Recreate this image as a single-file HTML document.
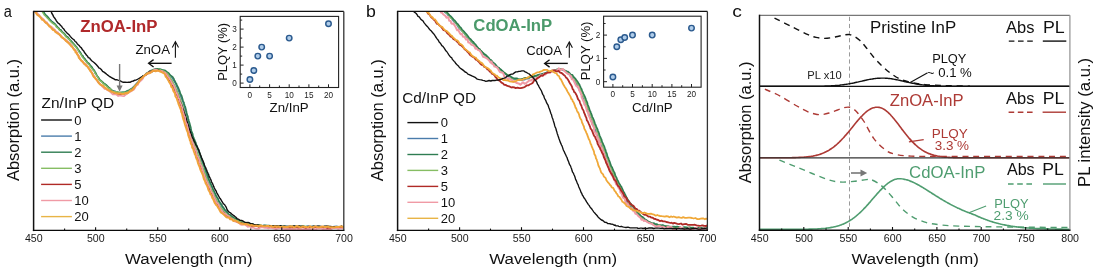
<!DOCTYPE html>
<html><head><meta charset="utf-8"><title>Absorption and PL spectra</title>
<style>
html,body{margin:0;padding:0;background:#fff;}
body{width:1097px;height:270px;overflow:hidden;font-family:"Liberation Sans",sans-serif;}
svg{display:block;will-change:transform;}
svg text{font-family:"Liberation Sans",sans-serif;}
</style></head>
<body>
<svg width="1097" height="270" viewBox="0 0 1097 270">
<rect width="1097" height="270" fill="#fff"/>
<text x="3.78" y="17.00" font-size="16.00" fill="#111" font-weight="normal" textLength="8.10" lengthAdjust="spacingAndGlyphs" >a</text>
<text x="365.90" y="17.00" font-size="16.00" fill="#111" font-weight="normal" textLength="9.83" lengthAdjust="spacingAndGlyphs" >b</text>
<text x="732.18" y="17.00" font-size="16.00" fill="#111" font-weight="normal" textLength="9.60" lengthAdjust="spacingAndGlyphs" >c</text>
<defs>
<clipPath id="ca"><rect x="33.6" y="11.4" width="310.2" height="219.0"/></clipPath>
<clipPath id="cb"><rect x="397.6" y="11.4" width="309.8" height="219.0"/></clipPath>
<clipPath id="cc"><rect x="759.5" y="15.3" width="310.4" height="214.9"/></clipPath>
</defs>
<g clip-path="url(#ca)" fill="none" stroke-linejoin="round">
<path d="M42.0,10.6 L43.0,11.6 L44.1,13.4 L45.3,15.0 L46.7,16.7 L47.8,17.6 L49.1,19.4 L50.6,19.9 L52.1,22.1 L53.4,23.1 L54.6,23.8 L56.0,25.2 L57.2,26.7 L58.4,28.3 L59.9,30.0 L61.2,31.1 L62.5,32.5 L63.8,33.5 L65.2,35.5 L66.5,36.6 L67.6,37.5 L68.9,38.7 L70.3,40.4 L71.6,41.7 L72.9,43.6 L73.9,44.3 L75.4,46.0 L76.7,47.3 L77.5,49.1 L78.8,50.2 L79.6,51.9 L80.9,53.9 L81.6,54.9 L82.7,56.3 L84.0,57.9 L85.1,59.7 L86.2,61.4 L87.4,62.7 L88.6,63.9 L89.9,65.1 L91.3,67.1 L92.3,68.6 L93.4,69.7 L94.6,71.5 L95.3,73.4 L96.3,74.3 L97.4,76.0 L98.2,77.4 L99.2,79.4 L100.5,80.8 L102.0,81.9 L103.5,83.2 L104.9,84.8 L106.3,85.2 L107.9,87.0 L109.2,87.6 L110.7,89.6 L112.0,90.7 L113.9,91.2 L115.5,91.3 L117.2,92.6 L119.0,92.7 L120.9,92.9 L122.8,92.3 L124.5,92.4 L126.3,91.4 L128.1,91.3 L129.7,89.9 L131.4,88.8 L132.5,87.7 L134.0,86.2 L135.2,85.1 L136.5,83.5 L137.7,82.9 L139.1,81.2 L140.2,79.8 L141.3,77.8 L142.5,77.3 L144.0,76.1 L145.2,74.5 L146.9,73.5 L148.4,72.8 L149.9,71.5 L151.8,71.1 L153.6,70.3 L155.4,69.9 L157.1,69.3 L159.0,69.4 L160.7,69.6 L162.6,70.0 L164.2,70.6 L165.8,71.8 L167.1,72.9 L168.8,74.4 L170.1,75.2 L171.4,76.8 L172.4,78.5 L173.3,80.0 L174.2,81.5 L175.1,82.8 L176.0,84.8 L176.7,86.9 L177.3,87.7 L178.1,90.1 L178.7,91.4 L179.6,93.6 L180.2,95.6 L180.9,97.1 L181.5,98.6 L182.4,100.9 L183.0,102.1 L183.5,103.8 L183.9,105.8 L184.7,107.9 L185.2,109.8 L185.5,110.9 L186.1,112.8 L186.5,114.7 L187.1,116.6 L187.5,118.8 L188.2,120.2 L188.4,121.6 L189.1,123.4 L189.5,125.8 L189.9,127.8 L190.3,128.9 L191.0,130.6 L191.6,132.6 L191.9,134.3 L192.6,136.4 L193.3,138.4 L193.9,140.5 L194.6,141.5 L195.2,143.2 L195.8,145.2 L196.7,146.7 L197.3,148.6 L198.0,150.5 L198.7,152.5 L199.3,154.3 L200.0,155.4 L200.7,157.8 L201.1,159.3 L201.9,161.5 L202.4,162.9 L203.2,164.9 L203.9,166.4 L204.4,167.9 L205.0,170.2 L205.6,171.9 L206.1,173.9 L206.9,175.7 L207.4,177.3 L208.0,179.2 L208.8,180.4 L209.3,182.2 L210.2,184.3 L210.9,185.3 L211.7,187.0 L212.5,188.8 L213.2,191.1 L213.9,192.2 L214.9,194.4 L215.8,196.1 L216.7,197.6 L217.6,198.8 L218.3,200.9 L219.3,202.7 L220.4,204.1 L221.4,205.7 L222.3,207.1 L223.6,209.1 L224.5,210.6 L225.8,211.8 L227.0,212.8 L228.3,214.4 L229.9,215.0 L231.5,216.6 L232.9,217.9 L234.5,218.6 L236.2,219.1 L237.8,220.3 L239.7,221.5 L241.2,221.7 L243.0,222.3 L245.0,223.2 L246.7,223.1 L248.4,223.9 L250.5,223.8 L252.3,224.1 L254.0,224.6 L256.0,224.9 L257.8,225.4 L259.5,225.6 L261.4,225.6 L263.3,225.4 L265.3,225.8 L267.1,225.9 L269.0,225.7 L270.8,226.3 L272.8,226.3 L274.7,226.4 L276.6,226.1 L278.5,226.7 L280.4,226.2 L282.1,226.9 L283.9,227.0 L286.0,226.2 L287.7,226.8 L289.6,226.2 L291.6,226.5 L293.5,226.2 L295.2,226.8 L297.0,226.3 L299.1,227.1 L301.0,226.3 L302.8,226.9 L304.7,226.9 L306.4,226.3 L308.3,226.2 L310.3,226.7 L312.2,226.4 L313.9,226.4 L316.0,227.2 L317.9,226.3 L319.5,227.2 L321.5,227.0 L323.4,226.7 L325.3,226.7 L327.2,226.3 L329.1,227.1 L330.8,226.7 L332.9,226.7 L334.6,226.4 L336.6,226.3 L338.7,227.1 L340.6,227.2 L342.2,226.7 L344.0,226.8 L345.0,226.8" stroke="#4a7cab" stroke-width="1.40"/>
<path d="M42.5,10.5 L43.1,11.3 L44.1,12.8 L45.1,14.3 L46.2,15.4 L47.5,16.6 L48.7,18.0 L49.9,19.8 L51.0,20.8 L52.5,21.8 L53.7,23.0 L54.9,23.9 L55.9,25.1 L57.1,26.8 L58.3,27.6 L59.7,29.4 L60.8,29.8 L62.1,31.8 L63.3,32.7 L64.3,33.6 L65.5,35.1 L66.6,36.6 L67.9,37.1 L69.1,38.8 L70.2,40.0 L71.3,41.1 L72.3,42.4 L73.2,43.2 L74.3,44.6 L75.3,45.8 L76.4,46.8 L77.1,48.0 L78.4,49.8 L79.3,51.3 L80.1,52.0 L80.9,53.4 L81.7,55.1 L82.9,56.0 L83.7,58.1 L84.7,58.5 L85.5,59.8 L86.4,60.6 L87.4,62.6 L88.3,62.9 L89.5,64.0 L90.4,65.8 L91.3,66.2 L92.1,67.5 L93.2,69.5 L94.2,70.1 L94.9,71.6 L95.6,72.6 L96.5,74.8 L97.3,76.3 L98.3,77.3 L99.0,78.4 L100.1,80.2 L101.3,80.8 L102.4,81.8 L103.6,83.1 L104.9,83.8 L106.4,85.0 L107.4,86.1 L108.7,87.3 L110.0,88.3 L111.0,89.5 L112.3,90.5 L113.2,91.0 L115.6,92.1 L117.4,92.0 L119.1,92.7 L121.0,92.4 L122.4,92.4 L124.3,92.4 L125.9,91.7 L127.5,90.8 L129.0,90.1 L130.5,89.3 L132.1,88.7 L133.0,87.6 L134.2,86.8 L135.3,85.4 L136.4,84.4 L137.4,82.8 L138.6,81.5 L139.5,80.4 L140.6,79.3 L141.9,78.2 L142.8,76.1 L144.1,75.7 L145.1,74.8 L146.7,72.9 L148.0,72.4 L149.7,71.1 L151.1,70.5 L152.7,70.0 L154.4,69.2 L155.9,68.7 L157.7,68.9 L159.8,69.0 L161.3,69.4 L163.1,70.2 L165.0,70.3 L166.3,71.3 L167.8,72.5 L169.0,73.4 L170.2,75.2 L171.6,76.2 L172.7,77.0 L173.8,78.6 L174.3,80.2 L175.1,81.3 L175.8,83.0 L176.4,83.6 L177.0,85.4 L177.9,87.0 L178.5,88.2 L179.1,89.7 L179.8,91.4 L180.3,93.4 L181.1,94.9 L181.7,96.0 L182.3,98.0 L182.9,100.2 L183.4,101.6 L184.0,102.6 L184.2,103.9 L184.7,105.5 L185.3,106.9 L186.2,110.5 L186.4,111.0 L186.6,112.8 L187.0,113.9 L187.3,115.4 L187.9,116.3 L188.1,118.2 L188.7,120.0 L188.9,120.9 L189.6,122.9 L190.0,124.6 L190.4,126.0 L190.9,127.9 L191.0,129.2 L191.5,130.9 L192.2,132.9 L192.6,133.7 L192.9,135.2 L193.5,137.4 L194.1,138.9 L194.6,139.9 L195.2,141.5 L195.9,142.8 L196.3,144.7 L196.8,145.4 L197.3,146.7 L197.9,148.8 L198.5,149.6 L199.2,151.3 L199.5,152.5 L200.1,154.3 L200.6,155.8 L201.3,157.7 L201.8,158.6 L202.2,160.0 L202.8,162.3 L203.6,163.0 L204.0,165.3 L204.6,166.7 L205.0,167.4 L205.4,169.8 L206.1,171.2 L206.5,172.7 L207.1,173.8 L207.5,175.4 L208.1,176.6 L208.5,179.1 L209.2,180.0 L209.8,181.6 L210.5,183.0 L210.9,184.1 L211.7,186.0 L212.6,187.7 L213.1,189.7 L213.9,190.8 L214.8,192.7 L215.4,193.8 L216.1,195.8 L217.0,197.0 L217.4,198.0 L218.1,198.7 L219.1,201.3 L220.1,202.5 L220.7,203.7 L221.7,204.4 L222.4,206.4 L223.4,207.4 L224.6,209.2 L225.4,210.2 L226.4,211.3 L227.6,212.6 L228.9,214.6 L230.4,215.0 L231.8,216.6 L233.3,217.2 L234.7,218.5 L236.1,218.6 L237.2,219.3 L238.6,220.6 L240.0,220.9 L241.4,222.0 L243.2,222.5 L245.0,223.0 L246.3,222.6 L247.4,223.8 L248.9,224.0 L250.4,224.5 L252.3,224.1 L254.9,225.0 L256.1,224.9 L257.0,225.0 L258.1,224.8 L259.4,225.6 L260.4,225.3 L261.6,225.8 L262.7,226.1 L264.2,225.3 L265.4,225.4 L267.1,225.6 L268.6,225.5 L270.6,225.9 L272.6,225.9 L274.9,226.4 L277.3,226.8 L280.0,226.4 L281.0,226.2 L282.3,226.3 L283.4,226.4 L284.8,226.1 L286.1,226.9 L287.6,226.5 L289.1,226.7 L290.5,226.6 L292.0,226.7 L293.7,226.2 L295.4,226.3 L297.1,227.1 L298.9,226.2 L300.6,226.7 L302.4,226.4 L304.0,226.5 L305.8,227.0 L307.8,226.8 L309.6,226.6 L311.3,226.6 L313.2,226.5 L315.1,226.7 L316.7,226.7 L318.7,226.6 L320.3,226.7 L322.2,227.0 L323.9,226.5 L325.6,226.9 L327.2,226.8 L328.8,227.2 L330.5,226.9 L332.1,227.0 L333.5,226.9 L334.8,226.9 L336.3,226.8 L337.8,226.6 L338.9,227.1 L340.1,227.2 L341.4,226.4 L342.4,227.2 L343.4,226.9 L344.1,226.7 L345.0,226.8" stroke="#2f7d52" stroke-width="1.60"/>
<path d="M41.1,10.7 L42.1,11.3 L43.1,13.2 L44.5,15.3 L45.9,16.5 L47.1,17.9 L48.3,19.0 L49.7,20.8 L51.0,21.9 L52.4,23.1 L53.8,24.1 L55.3,25.1 L56.4,27.3 L57.8,27.8 L59.3,30.0 L60.3,30.8 L61.6,32.1 L63.1,33.3 L64.4,34.5 L65.6,36.6 L67.0,37.5 L68.3,38.9 L69.6,39.8 L71.0,42.1 L72.3,43.2 L73.4,44.3 L74.8,46.0 L75.8,47.0 L77.0,48.7 L78.2,50.3 L79.0,52.1 L80.2,53.4 L81.1,54.9 L82.2,56.8 L83.2,58.1 L84.4,59.7 L85.5,60.8 L86.8,62.6 L88.0,63.8 L89.3,65.0 L90.6,67.1 L91.8,68.5 L92.9,70.0 L93.9,70.8 L95.0,73.2 L95.7,74.1 L96.9,75.8 L97.7,77.1 L98.7,79.2 L100.3,81.0 L101.5,81.3 L102.8,83.4 L104.4,84.4 L105.7,85.5 L107.2,86.7 L108.6,88.3 L110.2,88.7 L111.5,90.5 L113.2,91.4 L115.0,91.8 L116.8,91.8 L118.4,92.2 L120.4,92.8 L122.0,93.0 L123.9,92.1 L125.6,92.5 L127.4,91.5 L129.1,91.1 L130.6,89.6 L132.0,89.0 L133.4,87.5 L134.6,86.0 L135.9,84.8 L136.9,83.6 L138.4,82.3 L139.6,81.0 L140.7,79.5 L141.9,77.4 L143.2,76.3 L144.7,75.5 L146.0,74.3 L147.4,73.1 L149.1,72.1 L150.6,71.3 L152.3,70.9 L154.0,69.7 L155.9,69.9 L157.8,69.7 L159.6,69.5 L161.1,70.1 L162.9,70.5 L164.6,71.6 L166.0,72.7 L167.6,73.6 L168.7,75.3 L169.9,76.9 L171.0,78.9 L172.0,80.3 L172.8,81.7 L173.8,83.8 L174.5,85.1 L175.4,87.2 L176.0,88.6 L176.9,90.2 L177.6,92.2 L178.4,93.9 L179.0,95.4 L179.7,97.1 L180.3,98.9 L180.9,100.5 L181.5,102.6 L182.1,103.9 L182.9,106.0 L183.5,108.1 L183.8,110.2 L184.5,111.4 L184.8,113.5 L185.5,115.3 L186.0,116.9 L186.4,118.6 L186.9,120.5 L187.4,122.4 L188.0,124.0 L188.3,125.9 L189.1,127.9 L189.3,130.1 L190.1,131.9 L190.5,133.6 L191.0,134.8 L191.7,137.3 L192.1,139.1 L192.7,140.3 L193.4,141.9 L194.1,144.2 L194.8,145.5 L195.5,147.3 L196.3,149.4 L196.8,151.2 L197.5,152.8 L198.2,154.7 L198.9,156.4 L199.5,158.1 L200.1,159.8 L200.7,161.7 L201.4,163.2 L202.1,165.2 L202.8,167.2 L203.4,169.0 L203.9,170.5 L204.6,172.6 L205.3,173.7 L205.7,175.5 L206.4,177.2 L207.0,179.1 L207.7,181.3 L208.6,183.4 L209.4,184.9 L210.1,185.9 L210.7,188.5 L211.5,189.5 L212.4,191.4 L213.2,193.0 L213.9,194.5 L214.8,197.0 L215.8,198.5 L216.7,199.8 L217.4,202.0 L218.4,203.4 L219.3,204.5 L220.4,206.6 L221.6,208.2 L222.6,209.3 L223.9,211.5 L224.9,212.1 L226.2,213.8 L227.6,214.7 L229.2,216.2 L230.6,217.1 L232.5,218.3 L233.9,219.0 L235.5,220.2 L237.4,220.4 L239.1,221.5 L240.9,221.9 L242.6,222.4 L244.6,222.9 L246.3,223.5 L248.0,223.9 L249.9,224.2 L251.8,224.6 L253.8,224.8 L255.5,225.4 L257.4,225.4 L259.4,225.1 L261.2,225.3 L263.0,226.1 L265.1,226.1 L266.7,226.0 L268.7,226.5 L270.5,225.9 L272.5,226.4 L274.4,226.3 L276.4,226.3 L278.3,226.3 L280.0,226.3 L282.0,226.8 L283.7,226.6 L285.7,226.6 L287.6,226.7 L289.5,226.5 L291.3,226.1 L293.3,226.9 L295.1,227.1 L297.1,226.3 L299.0,226.6 L300.7,226.4 L302.6,226.2 L304.4,226.3 L306.3,226.4 L308.2,227.1 L310.1,226.7 L312.1,227.2 L313.8,226.5 L315.9,227.2 L317.8,226.8 L319.5,226.5 L321.6,227.0 L323.4,227.1 L325.2,226.8 L327.2,226.4 L329.0,226.5 L331.0,227.1 L332.8,226.7 L334.5,226.8 L336.5,226.7 L338.4,227.2 L340.5,226.9 L342.3,227.2 L344.0,226.9 L345.0,226.8" stroke="#86bd63" stroke-width="1.40"/>
<path d="M50.5,10.7 L51.2,11.5 L51.9,13.5 L52.8,14.9 L53.7,16.9 L54.6,18.0 L55.4,19.2 L56.4,20.8 L57.2,22.0 L58.3,23.3 L59.4,23.8 L60.4,25.3 L61.5,26.2 L62.6,28.0 L63.7,28.8 L64.8,30.6 L66.0,31.9 L67.0,33.0 L68.4,34.3 L69.3,35.1 L70.5,36.6 L71.7,38.0 L72.9,39.0 L74.1,39.8 L75.1,41.5 L76.2,42.2 L77.2,43.7 L78.3,44.8 L79.4,45.8 L80.3,47.0 L81.4,47.9 L82.5,49.8 L83.7,50.9 L84.6,52.7 L85.6,53.8 L86.4,55.1 L87.6,56.2 L88.3,57.6 L89.7,58.1 L90.6,59.6 L91.7,60.7 L93.1,61.8 L94.3,62.7 L95.4,63.8 L96.4,64.8 L97.9,66.4 L98.8,67.8 L100.1,68.4 L101.3,69.5 L102.6,71.3 L104.0,72.2 L105.3,73.1 L106.7,74.3 L108.1,75.4 L109.3,76.3 L110.7,77.2 L112.0,78.0 L113.5,78.7 L115.0,79.7 L116.6,79.7 L118.0,80.2 L119.8,80.7 L121.6,81.6 L123.3,82.3 L125.1,82.3 L127.1,82.4 L128.7,82.2 L130.4,82.2 L131.7,81.4 L133.3,81.0 L134.9,80.2 L136.4,79.9 L138.1,79.0 L139.6,78.2 L141.2,77.2 L142.9,76.0 L144.4,75.8 L145.6,74.9 L147.0,73.7 L148.6,73.3 L149.9,72.5 L151.9,71.8 L153.7,70.7 L155.4,70.8 L156.9,70.3 L158.7,70.2 L160.2,71.1 L161.7,71.4 L162.9,72.3 L164.3,73.4 L165.5,74.4 L166.8,76.2 L168.1,77.4 L168.8,79.0 L169.8,80.5 L170.8,81.5 L171.7,83.3 L172.5,84.9 L173.4,86.4 L174.2,88.0 L174.9,89.6 L175.8,91.3 L176.4,92.9 L177.1,94.8 L177.8,95.4 L178.2,97.0 L178.9,98.3 L179.5,100.2 L179.9,101.2 L180.4,102.3 L180.9,103.6 L181.5,104.9 L182.0,106.1 L182.6,108.0 L183.6,110.0 L183.8,111.4 L184.3,112.7 L184.6,113.5 L185.1,114.9 L185.5,116.3 L186.1,118.1 L186.6,119.7 L187.0,121.8 L187.5,122.9 L188.1,124.6 L188.7,126.5 L189.0,128.2 L189.7,129.5 L190.0,130.7 L190.7,132.7 L191.1,134.0 L191.6,134.8 L192.1,137.0 L192.9,138.3 L193.5,139.5 L194.2,141.5 L194.8,142.3 L195.4,143.8 L196.0,145.1 L196.8,146.1 L197.3,147.2 L198.1,149.0 L198.7,149.8 L199.2,151.4 L199.9,153.3 L200.3,154.5 L200.9,155.8 L201.4,157.5 L202.1,159.1 L202.6,160.2 L203.3,161.5 L203.9,163.6 L204.4,164.9 L205.0,166.6 L205.6,167.4 L206.3,169.3 L206.8,170.4 L207.3,171.7 L208.0,173.2 L208.6,174.4 L209.0,176.1 L209.7,177.3 L210.3,178.6 L211.0,180.0 L211.5,181.8 L212.1,182.8 L212.9,184.4 L213.7,186.4 L214.3,187.8 L215.2,189.7 L216.0,190.7 L216.8,192.8 L217.6,194.1 L218.1,195.2 L218.9,196.5 L219.6,197.9 L220.3,198.6 L221.5,200.7 L222.5,202.3 L223.5,203.9 L224.5,204.5 L225.2,205.7 L226.3,207.4 L227.0,209.5 L228.1,211.0 L229.3,212.3 L230.6,212.9 L232.0,214.3 L233.4,215.4 L234.6,216.2 L235.9,217.2 L237.2,218.8 L238.6,219.2 L240.0,220.3 L241.6,220.4 L243.1,221.2 L244.6,222.1 L246.3,222.6 L248.0,222.5 L249.7,222.9 L250.9,224.0 L252.3,223.8 L253.8,224.4 L255.9,225.1 L256.9,224.6 L257.4,225.0 L257.9,225.1 L258.3,225.4 L259.1,225.2 L260.6,225.9 L262.7,225.9 L265.7,226.1 L269.9,225.7 L270.9,226.0 L271.9,226.0 L273.1,226.2 L274.1,225.8 L275.2,225.7 L276.6,226.3 L278.1,226.0 L279.3,226.2 L280.9,225.8 L282.3,226.6 L283.8,226.3 L285.5,226.4 L287.0,226.5 L288.7,226.4 L290.4,226.5 L292.1,226.6 L293.8,225.9 L295.5,226.3 L297.5,226.7 L299.1,226.0 L301.0,226.5 L302.8,226.2 L304.6,226.6 L306.6,226.8 L308.3,226.4 L310.3,226.6 L312.0,226.6 L313.9,226.1 L315.6,226.5 L317.4,226.3 L319.3,226.3 L321.0,226.5 L322.6,226.8 L324.4,226.3 L326.1,226.3 L327.6,226.3 L329.2,226.5 L330.8,226.4 L332.3,226.9 L333.8,226.7 L335.1,227.0 L336.5,226.8 L337.9,226.6 L339.1,226.7 L340.3,226.9 L341.3,226.3 L342.4,226.5 L343.4,226.6 L344.1,227.0 L345.0,226.7" stroke="#111" stroke-width="1.40"/>
<path d="M34.1,10.7 L35.3,11.9 L36.6,12.8 L38.0,14.4 L39.5,15.6 L40.8,17.1 L42.1,18.6 L43.6,20.1 L44.7,21.1 L46.1,23.0 L47.7,24.2 L49.1,25.5 L50.6,26.8 L51.8,28.1 L53.3,29.3 L54.7,30.2 L56.0,31.5 L57.4,32.5 L59.0,34.4 L60.5,35.6 L61.7,36.9 L63.0,38.1 L64.5,38.9 L65.8,40.6 L67.2,41.8 L68.7,43.1 L69.9,44.5 L71.3,45.6 L72.5,47.1 L73.7,48.8 L75.1,50.1 L76.1,52.2 L76.8,53.1 L78.0,55.4 L78.9,56.4 L79.9,58.7 L81.1,60.2 L82.1,61.6 L83.5,62.9 L84.8,64.5 L86.3,65.5 L87.5,66.8 L88.9,68.2 L89.9,69.8 L90.9,71.0 L91.9,73.0 L92.9,74.2 L93.9,76.3 L95.1,77.8 L96.0,79.2 L97.3,80.4 L98.4,82.8 L99.8,83.5 L101.2,85.1 L102.6,86.2 L104.3,87.7 L105.7,88.3 L107.5,90.0 L109.2,90.4 L110.9,91.2 L112.5,92.3 L114.5,93.3 L116.2,93.9 L118.2,94.0 L120.1,94.3 L121.9,94.1 L123.8,94.0 L125.6,93.5 L127.5,93.1 L129.3,91.5 L131.0,90.6 L132.4,89.6 L133.7,88.0 L135.1,86.4 L136.4,84.8 L137.6,83.4 L138.7,82.0 L139.8,80.3 L141.2,79.1 L142.7,78.2 L143.8,76.4 L145.3,75.3 L146.9,74.3 L148.6,72.5 L150.2,71.7 L152.3,70.9 L154.0,70.5 L155.8,70.6 L157.7,70.4 L159.8,70.9 L161.5,71.4 L163.1,71.9 L164.7,73.3 L166.2,73.9 L167.2,75.7 L168.4,77.3 L169.3,79.3 L170.3,80.1 L171.1,81.7 L172.1,83.5 L173.0,85.9 L173.8,87.6 L174.4,89.1 L175.3,91.0 L175.9,92.8 L176.5,94.1 L177.5,96.0 L178.0,98.0 L178.8,99.0 L179.3,101.0 L180.0,103.5 L180.6,105.2 L181.4,106.6 L182.0,108.7 L182.4,110.0 L182.9,112.5 L183.5,113.6 L184.0,115.7 L184.4,117.6 L184.9,119.7 L185.5,120.8 L186.1,122.8 L186.7,124.8 L187.2,127.0 L187.6,128.7 L188.3,130.2 L188.9,131.6 L189.4,133.5 L190.0,135.3 L190.3,137.5 L191.2,139.0 L191.7,141.2 L192.2,142.9 L192.8,144.6 L193.7,146.2 L194.2,147.7 L195.0,149.9 L195.7,152.0 L196.1,153.9 L197.0,155.6 L197.6,157.3 L198.2,159.0 L198.8,160.4 L199.3,162.6 L200.1,163.7 L200.8,166.1 L201.4,168.0 L202.1,169.4 L202.8,171.3 L203.4,173.0 L204.1,174.8 L204.8,176.4 L205.4,178.8 L206.1,180.0 L206.6,181.9 L207.4,184.0 L208.3,185.9 L208.9,187.0 L209.7,189.1 L210.4,190.3 L211.2,192.1 L212.0,194.5 L212.8,196.1 L213.7,197.1 L214.7,198.7 L215.3,200.4 L216.2,202.3 L217.2,203.7 L218.2,205.9 L219.2,207.0 L220.4,209.2 L221.6,210.6 L222.8,212.1 L224.1,212.9 L225.2,214.7 L226.8,215.8 L228.5,216.5 L230.1,217.8 L231.6,218.7 L233.3,220.0 L235.0,221.2 L236.7,221.8 L238.4,222.5 L240.2,223.3 L242.3,223.3 L244.1,223.9 L245.8,224.2 L247.7,224.7 L249.6,225.6 L251.4,226.1 L253.2,226.0 L255.1,225.9 L257.1,226.2 L258.8,227.0 L260.9,226.8 L262.7,226.6 L264.4,227.1 L266.4,226.8 L268.5,226.7 L270.2,227.5 L272.2,226.9 L274.1,227.4 L276.0,227.9 L277.9,227.6 L279.8,227.5 L281.6,227.9 L283.5,227.5 L285.2,227.9 L287.2,227.6 L289.1,227.7 L291.0,228.0 L293.0,227.7 L294.9,227.6 L296.8,228.0 L298.7,228.0 L300.6,227.8 L302.4,227.4 L304.2,227.7 L306.2,228.2 L308.0,227.6 L310.1,227.7 L312.0,227.4 L313.9,227.7 L315.7,227.3 L317.5,228.1 L319.5,227.9 L321.3,227.3 L323.3,227.8 L325.2,227.9 L327.0,228.2 L328.8,228.3 L330.7,228.3 L332.7,227.8 L334.7,227.9 L336.5,227.4 L338.6,228.0 L340.4,227.5 L342.1,228.3 L344.0,227.8 L345.0,227.9" stroke="#b02a26" stroke-width="1.40"/>
<path d="M34.4,10.9 L35.7,12.4 L36.9,12.7 L38.6,14.9 L39.7,16.4 L41.1,17.9 L42.2,18.2 L44.0,19.8 L45.1,21.9 L46.6,22.0 L48.0,24.2 L49.2,25.5 L50.6,26.2 L51.9,27.2 L53.8,28.9 L55.2,30.2 L56.4,32.3 L57.9,32.2 L59.2,34.4 L60.4,34.7 L62.2,36.7 L63.2,37.9 L64.6,39.8 L66.1,39.9 L67.7,41.2 L68.8,42.4 L70.4,43.8 L71.6,45.2 L72.8,47.7 L74.1,48.7 L75.2,50.2 L76.3,51.1 L77.2,53.0 L78.3,55.9 L78.9,56.1 L80.2,58.5 L81.0,60.3 L82.7,61.2 L83.7,62.8 L85.4,63.6 L86.4,64.8 L87.9,66.7 L88.9,68.0 L89.9,69.4 L91.4,71.5 L92.1,73.8 L93.1,74.2 L94.0,75.8 L95.1,77.6 L96.6,79.3 L97.4,81.5 L99.0,82.5 L100.3,84.1 L101.6,85.9 L103.2,87.5 L104.5,88.9 L106.0,89.2 L108.0,90.6 L109.5,91.3 L111.3,92.9 L112.7,94.4 L114.6,94.2 L116.4,94.6 L118.2,96.1 L120.1,95.5 L122.2,96.0 L124.1,96.1 L125.9,94.7 L127.8,93.4 L129.4,92.4 L130.9,91.5 L132.0,90.6 L133.0,90.3 L133.9,89.7 L135.1,87.9 L135.7,86.4 L136.7,85.3 L138.0,84.8 L138.4,83.3 L139.8,81.8 L140.3,81.2 L141.5,80.3 L142.7,78.9 L143.8,76.4 L144.7,75.7 L145.5,74.9 L146.9,73.2 L148.1,73.8 L149.4,72.5 L150.6,72.6 L152.4,71.3 L154.5,69.5 L156.5,69.6 L158.5,70.9 L160.3,71.0 L161.9,70.9 L163.5,72.6 L164.8,72.3 L166.7,74.8 L167.8,76.5 L168.8,77.8 L169.8,79.5 L170.5,80.3 L171.7,82.6 L172.5,84.1 L173.6,85.3 L174.0,86.3 L175.1,88.9 L175.6,90.7 L176.1,91.9 L176.9,93.7 L178.0,95.4 L178.3,98.3 L179.2,98.5 L179.9,101.5 L180.6,103.4 L181.1,104.2 L181.8,106.7 L182.4,107.8 L182.7,110.5 L183.3,112.1 L183.8,114.2 L184.3,115.6 L185.1,117.1 L185.2,119.5 L185.7,121.7 L186.3,123.6 L187.0,124.0 L187.5,126.8 L188.0,128.5 L188.5,130.9 L188.9,132.5 L189.4,133.7 L190.0,134.9 L190.8,138.1 L191.3,139.0 L192.0,141.1 L192.5,142.4 L193.5,144.6 L193.9,146.8 L194.9,147.9 L195.0,149.4 L196.1,151.0 L196.4,153.9 L197.0,155.7 L197.7,156.7 L198.5,158.0 L199.3,160.3 L199.9,162.7 L200.2,164.6 L201.2,165.3 L201.8,167.0 L202.4,169.8 L203.0,171.1 L203.5,173.5 L204.4,175.2 L204.8,176.8 L205.4,178.3 L206.2,180.7 L206.8,181.6 L207.7,183.2 L208.2,185.5 L209.5,186.7 L210.2,188.4 L210.7,190.3 L211.8,192.6 L212.4,193.0 L213.2,194.6 L213.8,197.0 L214.7,198.2 L215.7,201.1 L216.9,203.0 L217.6,203.3 L218.9,205.3 L219.6,207.6 L220.7,209.4 L221.9,210.9 L222.8,212.4 L224.3,213.4 L225.5,213.9 L226.9,215.1 L228.9,216.2 L230.1,218.3 L231.7,218.6 L233.4,219.7 L234.9,221.6 L237.0,221.8 L238.9,223.0 L240.3,224.5 L242.1,225.0 L244.3,224.2 L246.1,225.5 L247.8,227.0 L249.6,226.3 L251.3,227.8 L253.4,227.8 L255.3,228.5 L257.4,228.6 L259.0,228.7 L260.8,227.4 L262.9,227.4 L264.9,228.0 L266.5,228.0 L268.4,228.5 L270.5,227.7 L272.1,228.2 L274.4,228.6 L276.0,229.5 L277.8,228.6 L279.7,228.3 L281.8,228.5 L283.6,229.0 L285.6,229.3 L287.3,229.7 L289.5,229.7 L291.2,228.9 L292.9,229.6 L294.9,229.4 L296.7,228.8 L298.4,229.4 L300.5,229.0 L302.6,229.6 L304.6,229.3 L306.1,229.8 L307.9,228.9 L310.3,229.7 L312.0,229.7 L313.6,228.2 L315.6,229.9 L317.3,228.8 L319.5,228.6 L321.6,228.4 L323.0,230.0 L324.9,228.6 L327.0,229.8 L328.8,229.2 L331.0,229.3 L332.9,228.3 L334.6,228.3 L336.7,228.3 L338.3,229.0 L340.6,228.3 L342.2,228.4 L343.8,228.3 L345.0,229.2" stroke="#f09aa5" stroke-width="1.60"/>
<path d="M33.7,9.9 L34.3,10.8 L35.3,11.6 L36.4,13.6 L37.6,15.2 L38.6,15.7 L39.9,16.7 L40.9,17.9 L42.3,19.8 L43.4,20.1 L44.7,21.7 L45.9,22.9 L47.0,23.4 L48.2,24.8 L49.4,26.5 L50.6,27.0 L51.9,28.8 L53.1,29.9 L54.1,30.0 L55.4,32.0 L56.8,32.8 L57.8,33.6 L59.2,34.2 L60.1,35.2 L61.5,37.3 L62.7,37.8 L63.8,38.6 L65.1,39.8 L66.1,41.0 L67.5,42.1 L68.8,43.3 L69.8,44.2 L71.2,46.2 L72.0,46.5 L73.0,47.9 L74.2,49.9 L75.1,50.5 L75.6,52.5 L76.6,52.8 L77.2,54.5 L78.3,55.5 L78.8,57.8 L79.9,58.9 L81.2,60.6 L82.1,61.2 L82.9,61.9 L84.1,63.7 L85.2,64.5 L86.5,66.0 L87.5,66.6 L88.6,68.4 L89.7,69.8 L90.3,71.0 L91.3,72.1 L92.2,73.3 L93.0,75.7 L93.9,77.0 L95.0,77.6 L95.8,79.3 L97.0,80.3 L97.7,81.3 L99.0,83.2 L99.9,84.4 L101.4,85.0 L103.0,85.8 L104.2,87.1 L106.0,88.3 L107.4,89.6 L108.9,90.3 L110.3,91.1 L111.9,91.8 L113.6,92.4 L114.8,92.9 L116.8,93.3 L118.2,93.8 L120.0,93.4 L121.9,93.9 L123.8,93.9 L126.0,93.0 L127.5,93.2 L128.9,91.9 L130.3,90.7 L131.8,90.5 L132.8,89.4 L134.1,88.0 L135.0,86.5 L136.2,85.1 L137.5,83.8 L138.5,82.7 L139.5,80.5 L140.8,79.1 L141.8,78.3 L143.0,77.1 L144.0,76.1 L145.0,75.2 L146.5,74.2 L148.0,73.2 L149.7,73.2 L150.9,72.5 L152.3,71.2 L154.1,70.6 L155.6,71.3 L157.0,70.6 L158.4,70.7 L160.1,71.5 L161.6,72.2 L163.0,72.9 L164.1,73.3 L165.1,74.8 L165.8,76.8 L166.7,77.6 L167.4,78.7 L168.4,80.4 L169.2,82.1 L170.0,83.2 L170.9,84.9 L171.4,86.9 L172.4,87.6 L173.1,89.9 L173.6,91.4 L174.5,92.5 L175.1,94.2 L175.5,96.5 L176.4,97.7 L176.9,98.8 L177.4,100.6 L178.1,102.2 L178.4,103.4 L178.8,104.7 L179.4,105.8 L179.6,106.7 L180.4,108.5 L181.1,110.5 L181.2,111.8 L181.8,113.0 L182.2,114.2 L182.6,116.4 L182.9,117.4 L183.4,119.3 L183.9,120.6 L184.6,123.1 L184.9,124.3 L185.6,126.5 L186.1,127.7 L186.6,129.6 L187.1,131.0 L187.6,131.8 L188.0,133.4 L188.2,134.9 L188.9,137.0 L189.5,138.4 L189.9,140.3 L190.6,141.5 L190.8,143.5 L191.6,144.8 L192.0,145.7 L192.2,147.6 L192.9,148.1 L193.4,149.5 L193.9,151.6 L194.5,152.8 L194.8,154.2 L195.6,155.4 L195.9,157.1 L196.7,159.2 L197.2,159.7 L197.6,161.4 L198.2,163.7 L198.8,165.2 L199.4,166.4 L199.8,167.5 L200.5,169.9 L201.2,171.4 L201.7,172.6 L202.2,173.5 L202.9,175.1 L203.5,177.5 L203.9,179.1 L204.7,180.5 L205.1,181.3 L205.7,183.5 L206.4,184.5 L207.2,186.0 L207.9,187.9 L208.5,189.9 L209.3,191.2 L210.0,192.6 L210.5,194.4 L211.4,194.9 L211.8,196.3 L212.3,198.0 L213.0,198.6 L214.0,201.2 L214.6,202.6 L215.5,204.0 L216.3,205.2 L216.9,205.5 L217.8,207.1 L219.0,208.8 L219.9,210.7 L220.9,212.4 L222.0,213.1 L223.1,214.0 L224.5,215.2 L226.0,216.8 L227.3,217.5 L228.7,217.4 L230.2,219.3 L231.8,219.2 L233.2,221.0 L234.8,220.5 L236.3,221.0 L237.9,222.3 L239.3,222.8 L240.6,223.4 L242.3,223.7 L243.6,224.3 L245.4,224.0 L246.7,224.3 L248.3,224.6 L250.0,225.5 L251.8,225.1 L253.7,225.8 L255.4,225.7 L256.9,225.6 L258.3,226.3 L259.8,225.7 L261.3,225.6 L263.4,226.2 L266.0,226.1 L267.1,226.0 L268.3,225.9 L269.2,226.5 L270.4,226.2 L271.5,226.1 L272.5,227.0 L273.7,226.7 L275.0,226.2 L276.6,227.0 L278.2,226.3 L279.6,226.9 L281.6,227.1 L283.3,226.8 L285.5,227.1 L287.7,227.0 L290.1,226.2 L291.3,226.8 L292.5,226.3 L293.7,227.2 L295.2,226.9 L296.6,226.2 L297.9,226.5 L299.7,227.0 L301.2,227.3 L302.9,226.4 L304.7,227.1 L306.5,227.1 L308.1,227.3 L309.7,226.2 L311.6,227.4 L313.4,227.1 L315.3,226.4 L317.1,227.1 L319.0,227.3 L320.7,226.9 L322.8,226.5 L324.3,226.9 L326.1,227.0 L328.1,226.6 L329.5,227.3 L331.1,227.3 L332.8,227.2 L334.3,227.4 L335.9,227.0 L337.1,227.0 L338.6,227.1 L339.9,226.6 L341.0,226.6 L342.1,226.6 L343.3,227.3 L344.3,226.7 L345.0,226.9" stroke="#f0a23a" stroke-width="2.00"/>
</g>
<text x="33.8" y="241.9" font-size="10.60" text-anchor="middle" fill="#1a1a1a" font-weight="normal" >450</text>
<line x1="64.6" y1="230.4" x2="64.6" y2="228.6" stroke="#111" stroke-width="1.10" />
<line x1="95.6" y1="230.4" x2="95.6" y2="227.2" stroke="#111" stroke-width="1.10" />
<text x="95.8" y="241.9" font-size="10.60" text-anchor="middle" fill="#1a1a1a" font-weight="normal" >500</text>
<line x1="126.7" y1="230.4" x2="126.7" y2="228.6" stroke="#111" stroke-width="1.10" />
<line x1="157.7" y1="230.4" x2="157.7" y2="227.2" stroke="#111" stroke-width="1.10" />
<text x="157.9" y="241.9" font-size="10.60" text-anchor="middle" fill="#1a1a1a" font-weight="normal" >550</text>
<line x1="188.7" y1="230.4" x2="188.7" y2="228.6" stroke="#111" stroke-width="1.10" />
<line x1="219.7" y1="230.4" x2="219.7" y2="227.2" stroke="#111" stroke-width="1.10" />
<text x="219.9" y="241.9" font-size="10.60" text-anchor="middle" fill="#1a1a1a" font-weight="normal" >600</text>
<line x1="250.7" y1="230.4" x2="250.7" y2="228.6" stroke="#111" stroke-width="1.10" />
<line x1="281.8" y1="230.4" x2="281.8" y2="227.2" stroke="#111" stroke-width="1.10" />
<text x="282.0" y="241.9" font-size="10.60" text-anchor="middle" fill="#1a1a1a" font-weight="normal" >650</text>
<line x1="312.8" y1="230.4" x2="312.8" y2="228.6" stroke="#111" stroke-width="1.10" />
<text x="344.0" y="241.9" font-size="10.60" text-anchor="middle" fill="#1a1a1a" font-weight="normal" >700</text>
<line x1="33.6" y1="11.4" x2="343.8" y2="11.4" stroke="#111" stroke-width="1.30" />
<line x1="343.8" y1="11.4" x2="343.8" y2="230.4" stroke="#333" stroke-width="1.30" />
<line x1="33.6" y1="10.8" x2="33.6" y2="231.1" stroke="#111" stroke-width="1.50" />
<line x1="32.9" y1="230.4" x2="344.4" y2="230.4" stroke="#0a0a0a" stroke-width="1.35" />
<text x="80.24" y="31.80" font-size="15.60" fill="#b0292b" font-weight="bold" textLength="77.31" lengthAdjust="spacingAndGlyphs" >ZnOA-InP</text>
<text x="135.40" y="54.10" font-size="12.60" fill="#111" font-weight="normal" textLength="34.62" lengthAdjust="spacingAndGlyphs" >ZnOA</text>
<line x1="175.4" y1="57.8" x2="175.4" y2="42.2" stroke="#111" stroke-width="1.10" />
<path d="M172.3,47.4 L175.4,41.6 L178.5,47.4" fill="none" stroke="#111" stroke-width="1.1"/>
<line x1="149.0" y1="63.3" x2="171.6" y2="63.3" stroke="#111" stroke-width="1.35" />
<path d="M153.6,59.6 L148.6,63.3 L153.6,67.0" fill="none" stroke="#111" stroke-width="1.35"/>
<line x1="119.6" y1="64.0" x2="119.6" y2="86.5" stroke="#777" stroke-width="1.40" />
<path d="M116.6,85.5 L122.6,85.5 L119.6,91.8 Z" fill="#777"/>
<text x="41.64" y="107.70" font-size="14.40" fill="#111" font-weight="normal" textLength="72.51" lengthAdjust="spacingAndGlyphs" >Zn/InP QD</text>
<line x1="41.1" y1="120.0" x2="71.9" y2="120.0" stroke="#111" stroke-width="1.40" />
<text x="74.2" y="124.8" font-size="13.00" text-anchor="start" fill="#111" font-weight="normal" >0</text>
<line x1="41.1" y1="136.1" x2="71.9" y2="136.1" stroke="#4a7cab" stroke-width="1.40" />
<text x="74.2" y="140.9" font-size="13.00" text-anchor="start" fill="#111" font-weight="normal" >1</text>
<line x1="41.1" y1="152.2" x2="71.9" y2="152.2" stroke="#2f7d52" stroke-width="1.40" />
<text x="74.2" y="157.0" font-size="13.00" text-anchor="start" fill="#111" font-weight="normal" >2</text>
<line x1="41.1" y1="168.3" x2="71.9" y2="168.3" stroke="#86bd63" stroke-width="1.40" />
<text x="74.2" y="173.1" font-size="13.00" text-anchor="start" fill="#111" font-weight="normal" >3</text>
<line x1="41.1" y1="184.4" x2="71.9" y2="184.4" stroke="#b02a26" stroke-width="1.40" />
<text x="74.2" y="189.2" font-size="13.00" text-anchor="start" fill="#111" font-weight="normal" >5</text>
<line x1="41.1" y1="200.5" x2="71.9" y2="200.5" stroke="#f09aa5" stroke-width="1.40" />
<text x="74.2" y="205.3" font-size="13.00" text-anchor="start" fill="#111" font-weight="normal" >10</text>
<line x1="41.1" y1="216.6" x2="71.9" y2="216.6" stroke="#e8b446" stroke-width="1.40" />
<text x="74.2" y="221.4" font-size="13.00" text-anchor="start" fill="#111" font-weight="normal" >20</text>
<text x="0" y="0" font-size="16.00" fill="#111" textLength="122.10" lengthAdjust="spacingAndGlyphs" transform="translate(19.00,181.10) rotate(-90)">Absorption (a.u.)</text>
<text x="125.06" y="263.50" font-size="15.30" fill="#111" font-weight="normal" textLength="127.54" lengthAdjust="spacingAndGlyphs" >Wavelength (nm)</text>
<rect x="240.2" y="16.4" width="98.4" height="71.1" fill="#fff" stroke="#222" stroke-width="1.1"/>
<line x1="240.2" y1="83.1" x2="243.6" y2="83.1" stroke="#222" stroke-width="1.00" />
<text x="236.8" y="86.0" font-size="8.20" text-anchor="end" fill="#222" font-weight="normal" >0</text>
<line x1="240.2" y1="74.1" x2="242.2" y2="74.1" stroke="#222" stroke-width="1.00" />
<line x1="240.2" y1="65.1" x2="243.6" y2="65.1" stroke="#222" stroke-width="1.00" />
<text x="236.8" y="68.0" font-size="8.20" text-anchor="end" fill="#222" font-weight="normal" >1</text>
<line x1="240.2" y1="56.1" x2="242.2" y2="56.1" stroke="#222" stroke-width="1.00" />
<line x1="240.2" y1="47.1" x2="243.6" y2="47.1" stroke="#222" stroke-width="1.00" />
<text x="236.8" y="50.0" font-size="8.20" text-anchor="end" fill="#222" font-weight="normal" >2</text>
<line x1="240.2" y1="38.1" x2="242.2" y2="38.1" stroke="#222" stroke-width="1.00" />
<line x1="240.2" y1="29.1" x2="243.6" y2="29.1" stroke="#222" stroke-width="1.00" />
<text x="236.8" y="32.0" font-size="8.20" text-anchor="end" fill="#222" font-weight="normal" >3</text>
<line x1="240.2" y1="20.1" x2="242.2" y2="20.1" stroke="#222" stroke-width="1.00" />
<line x1="249.9" y1="87.5" x2="249.9" y2="84.3" stroke="#222" stroke-width="1.00" />
<text x="249.9" y="97.5" font-size="8.20" text-anchor="middle" fill="#222" font-weight="normal" >0</text>
<line x1="259.7" y1="87.5" x2="259.7" y2="85.5" stroke="#222" stroke-width="1.00" />
<line x1="269.6" y1="87.5" x2="269.6" y2="84.3" stroke="#222" stroke-width="1.00" />
<text x="269.6" y="97.5" font-size="8.20" text-anchor="middle" fill="#222" font-weight="normal" >5</text>
<line x1="279.4" y1="87.5" x2="279.4" y2="85.5" stroke="#222" stroke-width="1.00" />
<line x1="289.2" y1="87.5" x2="289.2" y2="84.3" stroke="#222" stroke-width="1.00" />
<text x="289.2" y="97.5" font-size="8.20" text-anchor="middle" fill="#222" font-weight="normal" >10</text>
<line x1="299.0" y1="87.5" x2="299.0" y2="85.5" stroke="#222" stroke-width="1.00" />
<line x1="308.9" y1="87.5" x2="308.9" y2="84.3" stroke="#222" stroke-width="1.00" />
<text x="308.9" y="97.5" font-size="8.20" text-anchor="middle" fill="#222" font-weight="normal" >15</text>
<line x1="318.7" y1="87.5" x2="318.7" y2="85.5" stroke="#222" stroke-width="1.00" />
<line x1="328.5" y1="87.5" x2="328.5" y2="84.3" stroke="#222" stroke-width="1.00" />
<text x="328.5" y="97.5" font-size="8.20" text-anchor="middle" fill="#222" font-weight="normal" >20</text>
<circle cx="249.9" cy="79.5" r="2.75" fill="#b0cdea" stroke="#2b5a8e" stroke-width="1.45"/>
<circle cx="253.8" cy="70.5" r="2.75" fill="#b0cdea" stroke="#2b5a8e" stroke-width="1.45"/>
<circle cx="257.8" cy="56.1" r="2.75" fill="#b0cdea" stroke="#2b5a8e" stroke-width="1.45"/>
<circle cx="261.7" cy="47.1" r="2.75" fill="#b0cdea" stroke="#2b5a8e" stroke-width="1.45"/>
<circle cx="269.6" cy="56.1" r="2.75" fill="#b0cdea" stroke="#2b5a8e" stroke-width="1.45"/>
<circle cx="289.2" cy="38.1" r="2.75" fill="#b0cdea" stroke="#2b5a8e" stroke-width="1.45"/>
<circle cx="328.5" cy="23.7" r="2.75" fill="#b0cdea" stroke="#2b5a8e" stroke-width="1.45"/>
<text x="269.60" y="112.30" font-size="12.20" fill="#111" font-weight="normal" textLength="39.07" lengthAdjust="spacingAndGlyphs" >Zn/InP</text>
<text x="0" y="0" font-size="12.20" fill="#111" textLength="58.02" lengthAdjust="spacingAndGlyphs" transform="translate(227.20,80.84) rotate(-90)">PLQY (%)</text>
<g clip-path="url(#cb)" fill="none" stroke-linejoin="round">
<path d="M443.4,10.7 L444.2,11.2 L444.9,12.3 L446.1,13.0 L447.1,13.9 L448.1,15.3 L449.6,16.3 L451.0,17.8 L452.1,19.1 L453.6,21.2 L454.5,22.2 L455.2,23.0 L456.3,23.9 L457.5,25.4 L458.2,27.0 L459.3,28.4 L460.4,29.3 L461.4,30.5 L462.5,31.3 L463.7,32.8 L464.8,34.0 L465.9,35.9 L466.9,37.0 L467.9,38.1 L468.8,39.0 L470.1,39.8 L471.2,41.6 L472.1,42.2 L473.2,43.4 L474.4,44.5 L475.2,45.3 L476.5,47.3 L477.5,47.9 L478.6,49.2 L479.6,50.1 L480.8,51.2 L481.9,51.9 L483.1,53.9 L484.4,54.7 L485.6,55.4 L486.7,57.3 L488.2,58.1 L489.4,59.5 L490.6,60.9 L491.6,62.0 L492.9,62.7 L493.9,63.6 L494.7,64.2 L496.4,65.6 L497.5,67.5 L498.9,68.3 L500.0,68.9 L501.0,70.1 L502.1,70.9 L503.2,72.1 L504.8,73.8 L506.2,74.4 L507.4,76.0 L508.9,76.7 L510.2,77.0 L511.8,78.4 L513.5,78.9 L515.0,79.4 L516.8,79.5 L518.4,79.7 L520.1,79.5 L521.7,80.4 L523.1,79.7 L524.9,79.6 L526.6,78.5 L528.3,78.7 L530.0,77.5 L531.3,77.0 L532.9,76.9 L534.7,76.9 L536.6,75.6 L538.3,75.3 L539.7,74.8 L541.0,74.3 L542.5,74.3 L544.1,73.2 L545.6,73.5 L547.1,73.0 L548.4,72.2 L549.9,72.1 L551.6,71.6 L553.4,71.0 L555.1,69.8 L556.9,69.6 L558.7,69.2 L560.2,69.3 L561.9,69.0 L563.2,69.9 L564.7,71.0 L565.9,71.7 L567.2,72.6 L568.3,74.0 L569.8,74.7 L570.7,76.6 L571.6,76.8 L572.5,78.6 L573.6,79.5 L574.4,80.3 L575.2,82.0 L576.0,83.3 L576.7,84.4 L577.4,86.0 L578.2,87.7 L579.1,89.2 L579.7,90.2 L580.4,92.0 L581.2,94.1 L581.7,95.2 L582.5,97.0 L583.2,98.6 L583.7,100.0 L584.2,101.3 L584.6,102.3 L584.8,103.8 L585.3,104.8 L586.0,106.8 L586.8,107.7 L587.4,110.4 L587.9,111.3 L588.3,112.3 L588.7,114.3 L589.3,115.1 L589.7,116.9 L590.4,117.4 L590.8,119.3 L591.5,120.3 L592.1,121.8 L592.5,123.8 L593.1,125.1 L593.7,126.6 L594.3,127.9 L595.1,129.5 L595.6,131.2 L596.1,132.3 L596.8,133.9 L597.3,136.1 L597.8,137.4 L598.7,138.8 L599.0,140.0 L599.5,141.5 L600.3,142.6 L600.6,144.4 L601.2,145.7 L601.9,147.7 L602.4,148.5 L603.1,150.7 L603.6,151.5 L604.0,153.3 L604.7,154.7 L605.3,156.8 L605.9,158.3 L606.2,159.5 L606.8,161.2 L607.5,162.5 L607.9,163.2 L608.6,165.1 L609.0,166.3 L609.6,167.4 L609.9,168.7 L610.4,170.1 L611.4,171.4 L611.9,173.5 L612.8,174.8 L613.4,176.1 L614.0,178.0 L614.9,179.5 L615.4,180.3 L616.3,182.1 L616.8,183.5 L617.6,184.6 L618.1,186.1 L618.8,186.6 L619.6,188.4 L620.4,189.5 L621.1,191.2 L621.6,192.9 L622.4,194.3 L623.0,195.0 L623.7,197.0 L624.3,198.3 L625.2,199.1 L626.0,201.0 L626.8,201.4 L627.7,203.3 L628.8,204.8 L629.7,205.3 L630.7,206.8 L631.7,207.6 L632.7,209.1 L633.7,210.4 L634.8,211.2 L635.7,212.4 L636.9,213.7 L638.2,214.6 L639.2,215.4 L640.5,217.0 L641.7,218.1 L643.0,218.5 L644.4,219.9 L645.7,220.7 L646.8,221.1 L648.2,222.2 L649.7,223.0 L651.0,223.1 L652.3,223.7 L653.7,224.0 L655.1,224.6 L656.3,225.3 L658.0,225.6 L659.5,225.8 L661.2,225.7 L662.6,225.6 L664.4,226.4 L666.2,227.0 L667.9,226.5 L670.1,227.3 L671.3,226.7 L672.6,227.6 L674.1,227.4 L675.6,227.7 L677.3,227.8 L679.0,228.0 L680.6,227.6 L682.5,228.2 L684.3,227.7 L686.1,228.5 L687.6,228.0 L689.6,227.9 L691.4,228.0 L693.2,228.1 L694.7,228.1 L696.5,228.7 L698.0,228.7 L699.6,228.7 L701.1,228.3 L702.5,228.2 L704.0,228.6 L705.0,229.1 L706.2,228.2 L707.2,228.9 L708.0,228.8" stroke="#4a7cab" stroke-width="1.60"/>
<path d="M444.1,10.1 L444.5,11.7 L445.4,11.6 L446.5,12.9 L447.7,13.9 L448.9,15.2 L450.1,17.2 L451.4,18.5 L452.8,19.1 L454.1,21.1 L454.9,21.7 L456.0,23.2 L457.0,24.6 L458.0,25.6 L458.9,26.8 L459.8,28.4 L460.9,29.5 L462.1,30.7 L463.0,32.1 L464.2,32.7 L465.1,34.3 L466.1,35.9 L467.3,36.7 L468.3,38.0 L469.5,38.8 L470.4,40.2 L471.4,41.4 L472.6,42.3 L473.7,43.5 L474.6,45.1 L475.7,45.6 L476.8,47.2 L478.0,47.9 L478.9,48.6 L480.1,49.7 L481.1,50.9 L482.2,52.1 L483.4,53.0 L484.7,54.9 L485.9,55.5 L487.1,56.5 L488.3,58.5 L489.6,59.2 L490.7,60.4 L491.8,61.5 L493.0,62.7 L493.9,63.7 L494.9,64.2 L496.4,66.1 L497.7,67.4 L498.7,68.1 L500.0,69.0 L500.9,70.3 L502.1,70.8 L503.2,72.4 L504.7,72.7 L506.0,73.9 L507.6,74.9 L508.8,75.7 L510.3,76.7 L511.7,77.9 L513.5,78.7 L514.9,78.7 L516.8,78.7 L518.3,79.4 L520.0,79.8 L521.7,79.4 L523.2,78.9 L524.8,78.3 L526.6,78.0 L528.4,78.0 L529.7,77.5 L531.5,76.6 L533.1,76.2 L534.9,75.7 L536.6,76.2 L538.4,75.0 L539.7,74.5 L541.1,74.8 L542.6,73.5 L544.0,73.6 L545.4,73.3 L547.1,72.6 L548.5,72.5 L550.0,71.5 L551.4,71.0 L553.1,70.9 L554.6,70.7 L556.2,69.6 L557.6,70.0 L559.2,69.2 L560.6,68.9 L561.9,69.0 L563.4,69.5 L564.8,70.8 L566.1,71.2 L567.6,72.1 L568.8,73.2 L569.9,74.4 L571.3,75.3 L572.4,75.7 L573.2,76.9 L574.3,78.8 L575.2,79.4 L576.0,81.0 L576.7,82.5 L577.6,83.6 L578.4,85.0 L579.0,85.9 L579.7,87.3 L580.4,89.4 L581.2,90.0 L581.9,91.7 L582.6,93.5 L583.2,95.2 L583.9,96.6 L584.7,98.1 L585.2,100.1 L585.8,100.8 L585.9,102.6 L586.4,103.1 L586.8,104.5 L587.4,106.0 L588.0,108.7 L589.1,110.2 L589.4,111.9 L589.8,112.3 L590.2,113.8 L590.9,115.2 L591.3,116.5 L591.7,117.9 L592.4,119.3 L592.9,120.3 L593.3,121.6 L594.0,123.4 L594.7,124.7 L595.3,126.6 L595.9,127.5 L596.6,129.6 L597.0,130.8 L597.8,133.0 L598.2,134.0 L598.9,135.3 L599.4,137.5 L600.1,138.9 L600.5,140.4 L601.2,141.2 L601.7,143.1 L602.3,144.5 L602.7,145.9 L603.3,147.6 L603.9,149.3 L604.5,150.1 L605.0,151.5 L605.7,153.0 L606.2,154.7 L606.8,156.1 L607.3,158.1 L607.8,159.0 L608.3,161.0 L608.8,161.8 L609.4,164.0 L609.9,165.4 L610.5,166.0 L610.9,167.5 L611.5,168.5 L611.9,170.0 L612.7,171.7 L613.5,173.7 L614.3,174.8 L614.9,177.0 L615.5,177.6 L616.2,179.7 L617.0,181.1 L617.7,181.9 L618.3,183.5 L619.0,184.9 L619.7,185.4 L620.4,187.2 L621.0,188.8 L622.0,189.8 L622.7,191.4 L623.2,192.2 L624.0,194.3 L624.5,195.1 L625.1,196.7 L626.0,197.8 L626.6,199.3 L627.5,200.2 L628.3,202.0 L629.1,203.5 L630.2,204.8 L631.2,205.3 L632.0,206.4 L633.0,208.3 L634.2,209.3 L635.1,210.6 L636.3,211.5 L637.2,212.9 L638.4,213.8 L639.6,214.9 L641.0,216.2 L642.2,217.8 L643.2,219.0 L644.7,219.6 L646.0,220.4 L647.0,220.8 L648.5,222.3 L649.9,222.1 L651.1,222.7 L652.4,223.4 L653.8,223.7 L655.2,224.2 L656.7,224.8 L658.0,225.3 L659.5,225.1 L660.9,225.4 L662.6,226.1 L664.3,226.3 L666.1,225.9 L668.0,226.5 L670.1,226.5 L671.2,226.6 L672.6,227.5 L674.2,226.9 L675.5,227.3 L677.3,227.0 L678.9,227.8 L680.5,227.8 L682.4,228.0 L684.1,227.8 L685.9,227.5 L687.7,227.7 L689.5,227.6 L691.2,227.6 L693.1,227.9 L694.8,228.2 L696.4,227.9 L698.2,228.5 L699.7,228.3 L701.2,227.9 L702.5,228.7 L703.9,228.1 L705.1,228.8 L706.1,228.1 L707.2,228.9 L708.0,228.6" stroke="#86bd63" stroke-width="1.60"/>
<path d="M445.1,10.9 L445.8,10.8 L446.5,12.0 L447.5,12.7 L448.5,14.1 L449.7,15.4 L450.9,16.3 L452.4,18.0 L453.7,19.8 L455.0,20.6 L456.0,22.1 L456.9,23.3 L458.0,24.2 L458.9,25.4 L459.9,26.9 L460.9,27.6 L462.0,29.5 L463.1,30.5 L464.1,31.5 L465.1,32.9 L466.3,34.0 L467.1,35.1 L468.2,36.5 L469.3,38.2 L470.3,38.9 L471.3,39.9 L472.5,41.3 L473.4,42.0 L474.6,43.7 L475.6,44.4 L476.6,46.1 L477.6,47.3 L478.5,48.4 L479.5,48.9 L480.5,50.3 L481.8,51.6 L482.9,52.7 L484.0,53.9 L485.2,54.4 L486.5,55.6 L487.4,56.5 L488.7,57.8 L489.9,59.7 L490.9,59.9 L492.0,61.0 L493.1,62.7 L494.0,63.2 L495.1,64.1 L496.4,66.0 L497.8,67.2 L499.0,67.8 L500.1,69.2 L501.1,69.6 L502.1,70.7 L503.4,71.8 L504.7,73.1 L506.0,74.0 L507.4,74.9 L509.0,75.5 L510.4,76.2 L511.7,77.3 L513.3,78.0 L515.0,78.4 L516.8,78.2 L518.3,79.2 L519.9,79.4 L521.5,79.1 L523.1,78.6 L524.8,77.9 L526.6,77.9 L528.4,77.5 L529.9,77.2 L531.4,77.2 L533.0,76.7 L534.9,75.9 L536.6,75.6 L538.3,74.8 L539.6,74.5 L541.0,74.7 L542.5,73.7 L544.0,73.7 L545.5,73.0 L546.9,72.3 L548.4,71.8 L549.9,72.1 L551.5,70.9 L553.0,70.5 L554.6,70.3 L556.2,69.7 L557.8,69.3 L559.4,69.5 L560.6,69.6 L562.1,69.3 L563.6,70.1 L565.0,70.6 L566.6,71.3 L568.0,71.6 L569.6,73.1 L570.8,74.5 L572.3,74.7 L573.2,76.2 L574.2,77.4 L575.3,78.5 L576.2,79.8 L577.1,80.9 L577.8,81.9 L578.4,83.0 L579.4,84.4 L580.0,85.9 L580.8,87.6 L581.6,88.9 L582.2,90.7 L583.0,92.5 L583.6,94.0 L584.5,95.7 L584.9,96.6 L585.7,98.6 L586.0,99.6 L586.7,101.2 L587.0,101.9 L587.4,102.9 L587.8,104.7 L588.5,106.4 L589.1,108.0 L589.9,110.8 L590.4,111.3 L590.9,112.8 L591.4,113.9 L591.8,115.1 L592.3,116.8 L592.9,117.9 L593.3,118.7 L594.0,120.4 L594.4,121.5 L594.9,123.3 L595.8,125.2 L596.3,126.6 L596.8,127.7 L597.5,129.1 L598.1,131.1 L598.7,132.2 L599.2,134.1 L599.8,135.8 L600.4,137.2 L601.1,138.7 L601.6,139.7 L602.1,141.9 L602.6,142.7 L603.3,144.4 L603.9,145.6 L604.5,146.9 L605.0,148.9 L605.6,150.0 L606.1,152.4 L606.7,153.0 L607.3,155.4 L607.6,156.8 L608.2,157.5 L608.9,159.6 L609.5,161.0 L609.9,162.0 L610.5,164.1 L611.0,165.4 L611.4,166.6 L612.1,167.2 L612.6,168.5 L612.9,169.6 L613.8,171.4 L614.7,173.0 L615.3,175.3 L616.0,176.7 L616.8,178.2 L617.2,179.7 L618.0,180.8 L618.7,182.4 L619.3,183.6 L619.9,184.4 L620.8,185.9 L621.5,186.8 L622.2,188.7 L622.7,189.5 L623.6,191.7 L624.3,192.5 L624.9,194.2 L625.6,195.3 L626.3,197.0 L627.1,198.2 L627.6,199.2 L628.6,200.6 L629.5,202.2 L630.2,203.1 L631.3,204.1 L632.2,206.0 L633.1,206.2 L633.9,207.7 L635.0,209.0 L635.8,210.3 L636.9,211.0 L638.0,213.1 L639.1,214.1 L640.1,215.1 L641.3,216.4 L642.4,216.7 L643.8,218.0 L644.9,219.1 L646.2,219.9 L647.3,220.7 L648.7,221.8 L649.9,222.3 L651.2,222.9 L652.5,223.5 L654.0,223.1 L655.3,224.3 L656.7,224.0 L658.1,224.9 L659.6,225.4 L661.2,225.3 L662.8,225.1 L664.3,225.7 L666.2,226.4 L668.1,226.3 L670.0,226.8 L671.2,226.8 L672.7,226.6 L674.0,226.5 L675.5,226.8 L677.2,226.6 L678.9,227.0 L680.7,227.5 L682.4,227.7 L684.1,227.0 L685.9,227.2 L687.9,227.5 L689.6,227.4 L691.2,227.8 L693.1,227.5 L694.9,228.3 L696.5,228.3 L698.3,227.5 L699.8,228.2 L701.2,227.8 L702.6,228.1 L704.0,227.6 L705.1,227.9 L706.3,227.7 L707.0,227.8 L708.0,228.2" stroke="#2f7d52" stroke-width="1.60"/>
<path d="M440.7,11.4 L440.9,12.5 L441.7,12.5 L442.7,13.7 L443.8,14.7 L445.5,16.1 L446.5,17.7 L448.2,17.1 L449.2,20.7 L450.7,20.9 L451.3,23.2 L452.0,23.8 L453.6,23.4 L454.2,25.0 L455.3,26.4 L456.6,29.1 L457.2,30.3 L458.1,29.5 L459.6,32.6 L460.8,34.3 L461.9,33.7 L462.9,36.6 L463.5,36.7 L464.6,36.9 L466.0,39.4 L467.5,39.2 L468.3,42.5 L469.7,42.4 L470.5,43.8 L471.7,44.9 L473.1,45.3 L474.5,46.5 L475.4,48.7 L476.4,48.1 L477.8,49.8 L479.2,50.4 L480.0,51.0 L481.1,52.7 L482.3,55.0 L483.1,56.7 L484.8,57.3 L485.9,57.8 L486.9,58.4 L487.9,59.3 L489.1,60.4 L490.6,62.6 L491.5,61.6 L492.2,63.9 L493.5,64.5 L494.4,66.6 L495.5,66.6 L497.2,67.7 L498.3,69.1 L498.8,70.3 L499.9,72.1 L501.5,72.4 L502.6,72.5 L503.3,73.4 L504.2,76.2 L505.4,77.5 L507.0,78.0 L507.8,79.5 L509.6,78.3 L510.3,79.3 L511.7,79.9 L513.6,81.9 L515.2,82.0 L516.8,83.1 L518.5,83.4 L520.4,84.7 L521.9,83.2 L523.0,82.3 L524.6,83.8 L526.4,82.8 L528.1,81.5 L529.4,80.2 L531.2,80.5 L532.7,79.0 L533.6,77.9 L535.0,79.8 L536.8,77.8 L538.2,78.0 L539.8,75.8 L540.8,75.2 L542.8,76.0 L543.8,74.1 L545.4,74.6 L547.2,72.8 L548.4,72.2 L550.3,72.5 L551.8,71.2 L553.1,71.5 L554.8,70.3 L555.8,71.0 L557.9,69.7 L558.8,68.3 L560.3,70.4 L561.5,69.3 L563.1,69.1 L564.1,70.6 L566.0,72.4 L566.7,73.2 L568.3,73.9 L569.1,74.1 L570.5,76.6 L571.0,76.2 L571.8,79.2 L573.3,79.6 L573.9,81.3 L574.4,82.1 L575.4,84.3 L576.0,85.6 L576.7,86.4 L578.1,86.4 L578.5,87.7 L579.2,90.5 L580.3,92.0 L581.0,94.2 L581.6,94.8 L581.6,97.1 L582.3,98.6 L582.9,100.0 L583.8,102.2 L583.8,101.3 L584.4,104.6 L584.7,104.7 L585.3,105.2 L586.1,107.7 L587.0,111.2 L587.5,111.0 L587.9,112.8 L588.5,112.6 L588.6,115.6 L589.3,116.4 L589.8,118.0 L590.5,120.0 L591.1,121.6 L591.5,121.1 L592.0,124.4 L592.9,125.3 L593.0,125.6 L594.0,127.8 L594.2,130.7 L594.9,132.2 L595.8,133.8 L596.5,133.3 L596.7,136.6 L597.4,137.1 L598.2,138.8 L598.8,140.1 L599.0,142.0 L599.4,143.5 L600.5,143.4 L600.4,146.9 L601.1,147.4 L601.8,147.9 L602.3,149.3 L603.3,152.6 L603.8,152.5 L604.0,153.9 L605.0,157.7 L605.6,158.8 L605.9,159.4 L606.1,159.6 L607.0,163.5 L607.8,163.4 L608.0,166.0 L608.3,166.9 L609.1,167.4 L609.4,167.9 L609.7,169.5 L611.2,172.6 L611.1,174.2 L612.0,175.3 L613.3,177.6 L614.0,179.3 L614.5,178.2 L614.8,181.1 L615.8,183.1 L616.1,184.3 L617.1,184.8 L617.4,185.4 L618.4,187.7 L619.2,188.8 L620.0,189.5 L620.4,192.5 L621.3,192.8 L622.2,194.9 L622.6,196.6 L623.0,197.8 L623.9,197.8 L624.5,198.2 L625.6,201.9 L626.1,203.2 L626.9,203.3 L628.7,205.2 L628.9,206.2 L629.8,207.6 L631.2,208.6 L632.3,208.3 L633.5,211.3 L634.6,211.1 L635.3,213.6 L637.0,214.4 L637.7,215.2 L638.9,216.5 L640.7,218.1 L641.4,219.7 L643.2,219.4 L643.8,221.0 L645.3,220.5 L647.1,221.9 L647.9,222.4 L649.9,223.2 L650.9,223.5 L651.9,223.7 L653.3,225.0 L655.0,226.0 L656.7,226.8 L657.6,226.3 L659.1,225.9 L660.9,226.4 L662.9,226.7 L664.1,227.4 L665.9,228.4 L667.7,226.7 L669.7,227.3 L671.5,226.9 L672.7,229.1 L673.9,228.8 L675.8,229.5 L677.5,228.8 L678.9,228.2 L680.3,227.5 L682.5,228.2 L683.9,228.7 L685.7,229.2 L688.1,228.6 L689.2,228.2 L691.2,230.1 L693.4,229.4 L694.7,228.1 L696.8,228.0 L698.0,229.9 L699.9,228.5 L701.6,229.8 L702.7,228.7 L704.1,228.2 L705.2,228.2 L706.4,229.8 L707.2,229.2 L708.0,229.6" stroke="#f09aa5" stroke-width="2.00"/>
<path d="M426.0,11.0 L426.7,10.9 L427.5,12.3 L428.0,13.7 L429.1,14.1 L430.2,15.7 L431.2,17.2 L432.6,18.3 L433.8,19.8 L435.0,20.6 L435.9,22.2 L436.9,23.8 L438.1,23.9 L439.2,25.3 L440.2,26.1 L441.4,27.1 L442.6,28.7 L443.6,30.2 L444.7,30.4 L446.2,31.6 L447.1,33.0 L448.3,34.0 L449.5,35.1 L450.6,36.7 L452.0,36.9 L453.3,38.9 L454.6,39.6 L455.8,40.4 L457.1,41.7 L458.1,42.5 L459.2,44.2 L460.6,45.3 L461.7,45.8 L463.2,47.3 L464.0,48.6 L465.3,49.7 L466.4,50.5 L467.5,51.8 L468.8,53.0 L469.9,54.8 L470.9,55.5 L472.2,56.5 L473.5,57.3 L474.6,57.9 L475.6,59.6 L476.9,59.8 L478.3,61.4 L479.3,62.4 L480.5,63.8 L481.6,64.8 L483.0,64.8 L484.1,66.9 L485.4,67.0 L486.4,68.1 L487.4,69.5 L488.8,70.0 L489.8,71.7 L491.0,71.8 L491.7,73.7 L493.1,74.1 L494.5,75.4 L495.6,77.2 L496.6,78.2 L497.7,79.8 L498.9,80.3 L500.3,81.3 L501.5,82.6 L502.7,83.2 L504.3,84.8 L505.5,84.9 L506.8,85.6 L508.3,86.2 L509.6,86.5 L511.4,87.5 L512.7,87.1 L514.2,87.4 L515.7,88.1 L517.5,87.6 L519.2,88.1 L520.6,88.1 L522.0,87.8 L523.8,87.4 L525.1,86.8 L527.0,85.3 L528.5,85.4 L529.6,84.5 L531.3,83.7 L532.6,82.9 L534.0,80.7 L535.7,80.0 L536.8,78.8 L538.2,77.6 L539.4,77.2 L541.0,75.7 L542.3,75.7 L543.6,74.9 L545.0,73.8 L546.6,73.0 L548.1,72.3 L550.0,72.3 L551.3,70.9 L553.0,70.4 L554.3,70.4 L556.0,71.1 L557.2,71.3 L558.8,71.0 L560.2,72.7 L561.6,73.0 L562.8,74.0 L564.2,75.3 L565.0,75.9 L566.0,77.6 L566.8,78.0 L568.0,79.8 L568.6,80.7 L569.2,82.1 L570.2,83.7 L571.1,85.1 L571.9,86.5 L572.6,89.1 L573.4,89.8 L574.1,91.9 L575.1,92.6 L575.9,94.0 L576.8,95.6 L577.2,96.8 L577.9,98.9 L578.7,100.0 L579.5,100.9 L580.1,103.0 L580.8,104.8 L581.4,105.7 L581.8,107.1 L582.3,108.7 L583.2,110.0 L583.7,111.1 L584.0,112.5 L584.6,113.6 L585.0,114.6 L585.6,116.4 L586.3,117.5 L586.9,120.5 L587.5,120.9 L588.2,122.3 L588.8,123.8 L589.2,124.7 L590.2,127.1 L590.6,128.7 L591.6,129.7 L592.3,131.3 L592.8,132.6 L593.6,134.8 L594.3,136.1 L595.1,136.9 L595.7,138.8 L596.4,139.8 L597.3,142.1 L597.6,143.8 L598.5,145.4 L599.1,146.7 L599.9,147.7 L600.4,149.4 L601.3,150.9 L601.8,152.3 L602.5,153.6 L603.1,154.4 L603.8,157.0 L604.3,158.0 L605.0,159.5 L605.6,160.9 L606.1,162.8 L606.8,163.9 L607.3,165.3 L607.9,166.6 L608.6,168.1 L609.4,170.5 L610.1,171.7 L610.8,173.1 L611.5,173.6 L612.1,174.8 L612.8,176.2 L613.5,177.6 L614.2,179.7 L615.2,180.3 L616.0,181.3 L616.7,183.3 L617.6,185.1 L618.3,186.3 L619.1,186.7 L619.7,187.9 L620.7,189.7 L621.4,191.0 L622.4,192.3 L623.2,193.5 L624.0,195.3 L624.6,196.7 L625.5,197.0 L626.7,198.4 L627.4,200.4 L628.2,201.3 L629.3,201.7 L630.1,203.9 L631.4,204.6 L632.4,205.4 L633.6,205.9 L634.5,207.2 L635.7,208.9 L636.8,208.9 L637.9,210.7 L639.3,210.7 L640.6,211.9 L641.6,212.6 L643.3,214.2 L644.5,214.8 L646.1,214.7 L647.3,215.7 L648.6,216.7 L650.2,216.7 L651.2,217.7 L652.7,217.7 L654.0,218.8 L655.5,219.0 L656.7,219.7 L658.2,220.0 L659.8,221.1 L661.5,220.6 L663.0,221.4 L664.7,221.4 L666.4,222.0 L668.2,222.4 L670.4,223.0 L671.4,222.7 L672.9,223.6 L674.2,222.9 L676.0,223.4 L677.4,223.8 L679.0,224.1 L681.0,223.5 L682.6,224.7 L684.3,224.1 L686.3,223.9 L687.7,224.8 L689.8,224.9 L691.5,224.8 L693.4,224.8 L694.9,224.7 L696.5,225.4 L698.1,225.6 L699.7,225.8 L701.1,225.7 L702.6,225.3 L704.0,225.9 L705.1,225.8 L706.2,226.2 L707.0,225.4 L708.0,226.0" stroke="#b02a26" stroke-width="1.80"/>
<path d="M426.1,10.1 L426.6,11.3 L427.3,12.5 L428.6,12.7 L429.7,14.5 L430.9,16.4 L432.3,17.1 L433.6,19.0 L434.9,19.4 L436.2,21.0 L436.9,22.4 L438.2,23.9 L439.1,24.8 L440.1,26.1 L441.4,26.6 L442.5,27.1 L443.6,28.9 L444.9,30.2 L446.2,30.8 L447.3,31.6 L448.4,32.7 L449.7,34.0 L450.8,35.3 L451.9,35.9 L453.3,37.8 L454.4,38.5 L455.8,40.1 L457.2,40.4 L458.3,41.5 L459.5,43.5 L460.6,44.1 L461.6,44.7 L462.9,45.9 L464.0,48.1 L465.2,49.1 L466.5,50.1 L467.7,51.1 L468.7,52.0 L470.0,52.6 L470.9,54.3 L472.2,55.8 L473.4,56.6 L474.6,57.3 L475.9,57.7 L476.8,59.2 L478.1,60.3 L479.3,61.0 L480.4,62.5 L481.5,62.7 L483.1,64.4 L484.3,66.2 L485.8,67.3 L487.1,67.9 L488.3,68.5 L489.8,69.9 L490.8,70.6 L492.0,72.6 L493.2,73.5 L494.5,74.2 L495.6,75.5 L496.9,75.6 L497.7,76.8 L498.8,77.6 L500.2,78.3 L501.7,78.7 L503.4,80.1 L504.7,80.0 L506.6,80.3 L508.2,80.5 L509.7,81.4 L511.3,81.7 L513.0,81.9 L514.2,81.2 L515.7,81.3 L517.4,80.3 L518.9,79.8 L520.5,79.6 L522.2,79.9 L523.9,78.7 L525.4,78.7 L527.0,77.9 L528.7,77.2 L529.8,76.1 L531.6,76.3 L533.0,74.3 L534.6,73.8 L536.0,73.0 L537.4,72.3 L539.1,72.2 L540.4,71.7 L542.1,71.0 L543.6,70.0 L545.5,69.9 L546.9,69.8 L548.7,71.0 L550.2,71.2 L551.7,70.5 L553.0,71.7 L554.8,72.8 L556.4,73.2 L557.8,75.5 L559.0,76.0 L559.9,78.5 L561.0,79.5 L561.9,81.3 L562.4,82.5 L563.2,84.2 L564.0,85.5 L565.0,87.2 L565.6,88.1 L566.5,89.5 L567.4,91.4 L568.1,92.6 L569.1,94.2 L569.8,95.4 L570.5,96.6 L571.3,98.9 L572.3,99.6 L572.7,101.2 L573.7,102.6 L574.2,103.8 L575.0,105.8 L575.5,107.7 L576.2,108.3 L576.9,110.5 L577.4,111.8 L578.0,112.3 L578.5,113.2 L579.2,115.0 L579.4,116.2 L580.3,118.5 L581.3,119.8 L581.7,121.1 L582.1,122.8 L582.7,123.8 L583.1,124.9 L583.9,126.5 L584.3,128.6 L585.1,130.0 L585.7,131.1 L586.4,132.8 L587.2,134.5 L587.6,135.9 L588.3,137.6 L588.6,138.7 L589.4,140.0 L589.9,141.3 L590.6,143.7 L591.3,144.7 L591.6,146.1 L592.4,147.8 L592.8,148.9 L593.4,150.2 L594.0,151.7 L594.3,154.0 L594.8,154.8 L595.5,156.0 L596.0,158.5 L596.7,159.5 L597.1,161.0 L597.7,162.6 L598.2,164.9 L598.6,166.0 L599.3,167.4 L599.9,168.4 L600.3,169.8 L601.1,172.2 L601.8,173.1 L603.1,174.4 L603.8,176.5 L604.6,177.1 L605.7,178.2 L606.5,180.5 L607.5,181.7 L608.2,182.7 L609.2,183.6 L609.8,184.7 L610.8,185.5 L611.7,187.3 L613.1,187.8 L613.7,188.9 L614.6,190.9 L615.4,191.5 L616.4,193.3 L617.2,194.1 L618.4,196.5 L619.4,196.8 L620.4,198.4 L621.4,199.7 L622.4,201.8 L623.4,202.3 L624.6,203.3 L625.6,204.3 L626.6,206.0 L628.0,206.6 L628.9,206.9 L629.8,207.9 L631.1,209.1 L632.7,209.9 L634.1,210.1 L635.7,210.7 L637.2,210.9 L638.4,211.6 L639.7,211.7 L641.0,212.7 L642.8,213.1 L644.4,212.5 L645.7,213.1 L647.3,213.9 L649.1,213.8 L650.9,213.7 L652.3,214.2 L653.9,214.6 L655.7,215.7 L657.3,215.0 L658.8,215.7 L660.2,216.0 L662.0,216.2 L663.2,216.3 L665.0,216.6 L666.3,216.2 L667.9,216.4 L669.5,217.3 L670.9,216.4 L672.4,217.0 L673.7,216.5 L675.4,217.1 L676.9,217.6 L678.6,217.1 L680.3,217.6 L681.8,217.8 L683.2,217.2 L685.0,217.8 L686.5,217.8 L688.4,217.6 L690.1,217.7 L692.0,218.0 L693.7,218.5 L695.3,218.0 L697.4,219.1 L699.0,219.1 L700.7,218.6 L702.0,218.5 L703.5,218.5 L704.9,219.3 L706.1,218.6 L707.3,218.9 L708.0,219.2" stroke="#f0a838" stroke-width="1.80"/>
<path d="M413.2,10.7 L413.9,10.9 L414.3,12.2 L415.2,12.7 L416.2,13.5 L417.2,14.9 L418.0,16.3 L419.2,16.9 L420.4,18.7 L421.6,19.9 L422.8,20.7 L424.0,22.6 L425.0,23.9 L426.1,25.2 L427.3,26.4 L428.3,27.6 L429.3,29.1 L430.4,30.2 L431.4,31.1 L432.5,32.5 L433.6,33.7 L434.5,34.9 L435.5,36.5 L436.4,37.8 L437.3,39.1 L438.3,40.3 L439.1,41.9 L440.0,42.8 L441.0,44.2 L441.8,45.6 L442.8,46.3 L443.7,47.4 L444.7,48.8 L445.6,50.4 L446.7,51.5 L447.7,53.0 L448.7,54.6 L449.6,55.8 L450.6,57.1 L451.6,57.6 L452.4,59.4 L453.3,60.4 L454.2,61.4 L455.1,62.3 L455.8,63.6 L457.3,65.0 L458.4,65.9 L459.4,67.5 L460.4,68.2 L461.6,69.1 L462.7,69.9 L464.0,70.9 L465.1,72.0 L466.6,72.6 L467.9,74.1 L469.2,74.6 L470.8,75.4 L472.4,76.2 L473.6,76.7 L475.1,77.3 L476.7,78.8 L478.3,79.4 L479.6,79.7 L481.3,79.8 L482.8,80.4 L484.3,80.7 L485.8,81.3 L487.4,81.0 L489.1,80.5 L490.8,81.0 L492.2,80.5 L493.8,80.4 L494.9,80.5 L496.8,80.1 L498.5,80.0 L500.0,79.6 L501.6,79.2 L502.9,78.4 L504.3,78.1 L505.7,77.6 L507.0,76.1 L508.5,75.8 L510.1,74.6 L511.4,74.1 L512.9,74.0 L514.3,72.9 L515.8,71.9 L517.3,71.9 L518.8,71.3 L520.1,71.3 L521.8,70.8 L523.6,70.8 L525.1,71.9 L526.9,72.7 L528.2,73.5 L529.5,74.2 L530.7,75.5 L531.8,76.2 L532.9,77.3 L533.9,78.7 L534.9,79.8 L536.0,80.9 L536.8,82.2 L537.5,84.2 L538.5,85.6 L539.1,87.0 L540.0,88.5 L540.7,89.7 L541.5,91.0 L542.2,93.1 L542.9,94.6 L543.7,95.7 L544.4,98.0 L545.0,99.1 L545.7,100.3 L546.3,101.9 L546.7,102.9 L547.4,104.2 L548.1,105.2 L548.7,107.3 L549.7,109.7 L550.2,111.3 L550.5,112.2 L550.9,113.5 L551.5,114.6 L551.8,116.1 L552.2,117.5 L552.9,119.2 L553.2,120.4 L553.7,122.1 L554.2,123.5 L554.7,125.7 L555.2,127.1 L555.9,128.5 L556.2,130.1 L556.7,131.4 L557.2,133.4 L557.8,135.0 L558.1,136.0 L558.7,137.7 L559.1,139.0 L559.4,139.7 L560.2,142.1 L560.8,143.4 L561.5,145.0 L562.1,146.1 L562.6,147.6 L563.2,149.5 L563.6,150.6 L564.3,151.7 L564.7,152.9 L565.4,154.2 L565.9,155.3 L566.4,156.5 L567.1,157.6 L567.6,159.6 L568.2,160.8 L568.8,162.2 L569.2,163.8 L570.0,165.3 L570.5,165.9 L571.0,167.4 L571.6,168.8 L572.1,170.8 L572.6,172.2 L573.5,173.4 L574.0,174.7 L574.6,176.0 L575.2,177.8 L575.6,179.4 L576.3,180.6 L576.8,181.9 L577.4,183.6 L578.1,184.6 L578.6,186.4 L579.3,188.0 L580.0,189.6 L580.5,190.7 L581.1,192.5 L581.7,193.2 L582.3,195.0 L583.0,195.9 L583.9,197.7 L584.8,198.7 L585.6,200.2 L586.6,201.9 L587.6,203.4 L588.4,204.6 L589.3,205.6 L590.1,207.1 L591.1,208.2 L592.0,209.3 L592.8,210.5 L593.9,212.1 L595.0,213.3 L596.1,214.6 L597.0,215.5 L598.2,217.2 L599.1,218.0 L600.3,219.1 L601.5,220.0 L602.8,220.5 L604.0,221.6 L605.1,222.4 L606.5,222.5 L607.7,223.6 L609.3,223.6 L610.9,224.0 L613.1,224.4 L614.2,225.3 L615.1,225.0 L616.0,225.9 L616.9,225.8 L618.0,225.9 L618.9,226.3 L620.1,226.6 L621.4,226.3 L622.7,226.8 L624.1,227.2 L626.0,227.5 L628.0,227.1 L630.2,227.8 L632.8,227.9 L635.9,227.9 L637.0,227.8 L637.9,228.4 L639.2,228.3 L640.3,228.2 L641.8,228.1 L643.1,228.5 L644.3,228.2 L646.0,228.5 L647.4,228.3 L649.0,228.0 L650.5,228.0 L652.1,228.0 L653.7,228.5 L655.4,228.1 L657.2,228.2 L658.9,228.1 L660.8,228.4 L662.4,228.2 L664.2,228.8 L666.2,228.3 L667.9,228.7 L669.7,228.5 L671.5,228.5 L673.5,228.6 L675.3,228.5 L677.1,228.7 L678.9,228.5 L680.5,228.9 L682.3,228.7 L684.1,229.0 L685.9,228.8 L687.4,228.5 L689.2,229.0 L690.8,229.0 L692.4,228.7 L694.0,228.5 L695.4,228.5 L696.9,228.7 L698.2,229.1 L699.5,229.1 L700.9,229.0 L702.2,228.7 L703.2,228.9 L704.4,228.5 L705.3,228.5 L706.3,229.0 L707.3,228.5 L708.0,228.8" stroke="#111" stroke-width="1.35"/>
</g>
<text x="397.8" y="241.9" font-size="10.60" text-anchor="middle" fill="#1a1a1a" font-weight="normal" >450</text>
<line x1="428.6" y1="230.4" x2="428.6" y2="228.6" stroke="#111" stroke-width="1.10" />
<line x1="459.6" y1="230.4" x2="459.6" y2="227.2" stroke="#111" stroke-width="1.10" />
<text x="459.8" y="241.9" font-size="10.60" text-anchor="middle" fill="#1a1a1a" font-weight="normal" >500</text>
<line x1="490.5" y1="230.4" x2="490.5" y2="228.6" stroke="#111" stroke-width="1.10" />
<line x1="521.5" y1="230.4" x2="521.5" y2="227.2" stroke="#111" stroke-width="1.10" />
<text x="521.7" y="241.9" font-size="10.60" text-anchor="middle" fill="#1a1a1a" font-weight="normal" >550</text>
<line x1="552.5" y1="230.4" x2="552.5" y2="228.6" stroke="#111" stroke-width="1.10" />
<line x1="583.5" y1="230.4" x2="583.5" y2="227.2" stroke="#111" stroke-width="1.10" />
<text x="583.7" y="241.9" font-size="10.60" text-anchor="middle" fill="#1a1a1a" font-weight="normal" >600</text>
<line x1="614.5" y1="230.4" x2="614.5" y2="228.6" stroke="#111" stroke-width="1.10" />
<line x1="645.4" y1="230.4" x2="645.4" y2="227.2" stroke="#111" stroke-width="1.10" />
<text x="645.6" y="241.9" font-size="10.60" text-anchor="middle" fill="#1a1a1a" font-weight="normal" >650</text>
<line x1="676.4" y1="230.4" x2="676.4" y2="228.6" stroke="#111" stroke-width="1.10" />
<text x="707.6" y="241.9" font-size="10.60" text-anchor="middle" fill="#1a1a1a" font-weight="normal" >700</text>
<line x1="397.6" y1="11.4" x2="707.4" y2="11.4" stroke="#111" stroke-width="1.30" />
<line x1="707.4" y1="11.4" x2="707.4" y2="230.4" stroke="#333" stroke-width="1.30" />
<line x1="397.6" y1="10.8" x2="397.6" y2="231.1" stroke="#111" stroke-width="1.50" />
<line x1="396.9" y1="230.4" x2="708.0" y2="230.4" stroke="#0a0a0a" stroke-width="1.35" />
<text x="473.33" y="30.50" font-size="15.60" fill="#4b9a6b" font-weight="bold" textLength="78.90" lengthAdjust="spacingAndGlyphs" >CdOA-InP</text>
<text x="526.35" y="54.50" font-size="12.60" fill="#111" font-weight="normal" textLength="35.60" lengthAdjust="spacingAndGlyphs" >CdOA</text>
<line x1="569.3" y1="57.8" x2="569.3" y2="42.8" stroke="#111" stroke-width="1.10" />
<path d="M566.2,47.8 L569.3,42.0 L572.4,47.8" fill="none" stroke="#111" stroke-width="1.1"/>
<line x1="545.0" y1="63.4" x2="567.8" y2="63.4" stroke="#111" stroke-width="1.35" />
<path d="M549.6,59.7 L544.6,63.4 L549.6,67.1" fill="none" stroke="#111" stroke-width="1.35"/>
<text x="402.23" y="102.50" font-size="14.40" fill="#111" font-weight="normal" textLength="73.79" lengthAdjust="spacingAndGlyphs" >Cd/InP QD</text>
<line x1="407.4" y1="122.6" x2="438.2" y2="122.6" stroke="#111" stroke-width="1.40" />
<text x="440.8" y="127.4" font-size="13.00" text-anchor="start" fill="#111" font-weight="normal" >0</text>
<line x1="407.4" y1="138.5" x2="438.2" y2="138.5" stroke="#4a7cab" stroke-width="1.40" />
<text x="440.8" y="143.3" font-size="13.00" text-anchor="start" fill="#111" font-weight="normal" >1</text>
<line x1="407.4" y1="154.5" x2="438.2" y2="154.5" stroke="#2f7d52" stroke-width="1.40" />
<text x="440.8" y="159.3" font-size="13.00" text-anchor="start" fill="#111" font-weight="normal" >2</text>
<line x1="407.4" y1="170.4" x2="438.2" y2="170.4" stroke="#86bd63" stroke-width="1.40" />
<text x="440.8" y="175.2" font-size="13.00" text-anchor="start" fill="#111" font-weight="normal" >3</text>
<line x1="407.4" y1="186.4" x2="438.2" y2="186.4" stroke="#b02a26" stroke-width="1.40" />
<text x="440.8" y="191.2" font-size="13.00" text-anchor="start" fill="#111" font-weight="normal" >5</text>
<line x1="407.4" y1="202.3" x2="438.2" y2="202.3" stroke="#f09aa5" stroke-width="1.40" />
<text x="440.8" y="207.2" font-size="13.00" text-anchor="start" fill="#111" font-weight="normal" >10</text>
<line x1="407.4" y1="218.3" x2="438.2" y2="218.3" stroke="#e8b446" stroke-width="1.40" />
<text x="440.8" y="223.1" font-size="13.00" text-anchor="start" fill="#111" font-weight="normal" >20</text>
<text x="0" y="0" font-size="16.00" fill="#111" textLength="122.00" lengthAdjust="spacingAndGlyphs" transform="translate(383.30,181.30) rotate(-90)">Absorption (a.u.)</text>
<text x="489.26" y="263.50" font-size="15.30" fill="#111" font-weight="normal" textLength="127.84" lengthAdjust="spacingAndGlyphs" >Wavelength (nm)</text>
<rect x="603.6" y="16.2" width="97.5" height="71.0" fill="#fff" stroke="#222" stroke-width="1.1"/>
<line x1="603.6" y1="81.7" x2="607.0" y2="81.7" stroke="#222" stroke-width="1.00" />
<text x="600.2" y="84.6" font-size="8.20" text-anchor="end" fill="#222" font-weight="normal" >0</text>
<line x1="603.6" y1="70.0" x2="605.6" y2="70.0" stroke="#222" stroke-width="1.00" />
<line x1="603.6" y1="58.4" x2="607.0" y2="58.4" stroke="#222" stroke-width="1.00" />
<text x="600.2" y="61.3" font-size="8.20" text-anchor="end" fill="#222" font-weight="normal" >1</text>
<line x1="603.6" y1="46.8" x2="605.6" y2="46.8" stroke="#222" stroke-width="1.00" />
<line x1="603.6" y1="35.1" x2="607.0" y2="35.1" stroke="#222" stroke-width="1.00" />
<text x="600.2" y="38.0" font-size="8.20" text-anchor="end" fill="#222" font-weight="normal" >2</text>
<line x1="603.6" y1="23.5" x2="605.6" y2="23.5" stroke="#222" stroke-width="1.00" />
<line x1="612.9" y1="87.2" x2="612.9" y2="84.0" stroke="#222" stroke-width="1.00" />
<text x="612.9" y="97.2" font-size="8.20" text-anchor="middle" fill="#222" font-weight="normal" >0</text>
<line x1="622.7" y1="87.2" x2="622.7" y2="85.2" stroke="#222" stroke-width="1.00" />
<line x1="632.5" y1="87.2" x2="632.5" y2="84.0" stroke="#222" stroke-width="1.00" />
<text x="632.5" y="97.2" font-size="8.20" text-anchor="middle" fill="#222" font-weight="normal" >5</text>
<line x1="642.4" y1="87.2" x2="642.4" y2="85.2" stroke="#222" stroke-width="1.00" />
<line x1="652.2" y1="87.2" x2="652.2" y2="84.0" stroke="#222" stroke-width="1.00" />
<text x="652.2" y="97.2" font-size="8.20" text-anchor="middle" fill="#222" font-weight="normal" >10</text>
<line x1="662.0" y1="87.2" x2="662.0" y2="85.2" stroke="#222" stroke-width="1.00" />
<line x1="671.9" y1="87.2" x2="671.9" y2="84.0" stroke="#222" stroke-width="1.00" />
<text x="671.9" y="97.2" font-size="8.20" text-anchor="middle" fill="#222" font-weight="normal" >15</text>
<line x1="681.7" y1="87.2" x2="681.7" y2="85.2" stroke="#222" stroke-width="1.00" />
<line x1="691.5" y1="87.2" x2="691.5" y2="84.0" stroke="#222" stroke-width="1.00" />
<text x="691.5" y="97.2" font-size="8.20" text-anchor="middle" fill="#222" font-weight="normal" >20</text>
<circle cx="612.9" cy="77.0" r="2.75" fill="#b0cdea" stroke="#2b5a8e" stroke-width="1.45"/>
<circle cx="616.8" cy="46.8" r="2.75" fill="#b0cdea" stroke="#2b5a8e" stroke-width="1.45"/>
<circle cx="620.8" cy="39.8" r="2.75" fill="#b0cdea" stroke="#2b5a8e" stroke-width="1.45"/>
<circle cx="624.7" cy="37.4" r="2.75" fill="#b0cdea" stroke="#2b5a8e" stroke-width="1.45"/>
<circle cx="632.5" cy="35.1" r="2.75" fill="#b0cdea" stroke="#2b5a8e" stroke-width="1.45"/>
<circle cx="652.2" cy="35.1" r="2.75" fill="#b0cdea" stroke="#2b5a8e" stroke-width="1.45"/>
<circle cx="691.5" cy="28.1" r="2.75" fill="#b0cdea" stroke="#2b5a8e" stroke-width="1.45"/>
<text x="632.14" y="112.00" font-size="12.20" fill="#111" font-weight="normal" textLength="40.56" lengthAdjust="spacingAndGlyphs" >Cd/InP</text>
<text x="0" y="0" font-size="12.20" fill="#111" textLength="58.64" lengthAdjust="spacingAndGlyphs" transform="translate(590.40,80.25) rotate(-90)">PLQY (%)</text>
<g clip-path="url(#cc)" fill="none" stroke-linejoin="round" stroke-linecap="butt">
<line x1="849.5" y1="15.3" x2="849.5" y2="230.2" stroke="#9a9a9a" stroke-width="1.00" stroke-dasharray="4.2,2.9" stroke-dashoffset="5.6"/>
<path d="M774.5,18.1 C777.3,19.5 785.7,23.8 791.3,26.5 C796.9,29.2 803.9,32.8 808.0,34.6 C812.1,36.4 813.2,36.8 816.0,37.4 C818.8,38.0 822.0,38.4 824.7,38.4 C827.4,38.4 829.7,38.0 832.0,37.6 C834.3,37.2 836.6,36.6 838.6,36.2 C840.6,35.8 842.1,35.3 844.0,35.0 C845.9,34.7 848.0,34.3 849.8,34.6 C851.6,34.9 853.3,35.8 855.0,36.8 C856.7,37.8 858.2,39.0 860.0,40.6 C861.8,42.2 863.2,43.9 865.5,46.7 C867.8,49.5 871.1,54.2 873.9,57.5 C876.7,60.8 879.5,63.6 882.3,66.2 C885.1,68.9 887.8,71.2 890.8,73.4 C893.8,75.6 896.8,77.6 900.4,79.2 C904.0,80.8 908.4,81.9 912.5,82.8 C916.6,83.7 919.6,84.1 925.0,84.6 C930.4,85.1 937.5,85.3 945.0,85.6 C952.5,85.9 965.8,86.1 970.0,86.2" stroke="#111" stroke-width="1.4" stroke-dasharray="6,4.8"/>
<path d="M759.5,86.3 C759.8,86.3 760.8,86.3 761.5,86.3 C762.2,86.3 762.8,86.3 763.5,86.3 C764.2,86.3 764.8,86.3 765.5,86.3 C766.2,86.3 766.8,86.3 767.5,86.3 C768.2,86.3 768.8,86.3 769.5,86.3 C770.2,86.3 770.8,86.3 771.5,86.3 C772.2,86.3 772.8,86.3 773.5,86.3 C774.2,86.3 774.8,86.3 775.5,86.3 C776.2,86.3 776.8,86.3 777.5,86.3 C778.2,86.3 778.8,86.3 779.5,86.3 C780.2,86.3 780.8,86.3 781.5,86.3 C782.2,86.3 782.8,86.3 783.5,86.3 C784.2,86.3 784.8,86.3 785.5,86.3 C786.2,86.3 786.8,86.3 787.5,86.3 C788.2,86.3 788.8,86.3 789.5,86.3 C790.2,86.3 790.8,86.3 791.5,86.3 C792.2,86.3 792.8,86.3 793.5,86.3 C794.2,86.3 794.8,86.3 795.5,86.3 C796.2,86.3 796.8,86.3 797.5,86.3 C798.2,86.3 798.8,86.3 799.5,86.3 C800.2,86.3 800.8,86.3 801.5,86.3 C802.2,86.3 802.8,86.3 803.5,86.3 C804.2,86.3 804.8,86.3 805.5,86.3 C806.2,86.3 806.8,86.3 807.5,86.3 C808.2,86.3 808.8,86.3 809.5,86.3 C810.2,86.3 810.8,86.3 811.5,86.3 C812.2,86.3 812.8,86.3 813.5,86.3 C814.2,86.2 814.8,86.2 815.5,86.2 C816.2,86.2 816.8,86.2 817.5,86.2 C818.2,86.2 818.8,86.2 819.5,86.2 C820.2,86.2 820.8,86.2 821.5,86.1 C822.2,86.1 822.8,86.1 823.5,86.1 C824.2,86.1 824.8,86.1 825.5,86.0 C826.2,86.0 826.8,86.0 827.5,86.0 C828.2,86.0 828.8,85.9 829.5,85.9 C830.2,85.9 830.8,85.8 831.5,85.8 C832.2,85.8 832.8,85.7 833.5,85.7 C834.2,85.6 834.8,85.6 835.5,85.5 C836.2,85.5 836.8,85.4 837.5,85.4 C838.2,85.3 838.8,85.2 839.5,85.2 C840.2,85.1 840.8,85.0 841.5,84.9 C842.2,84.9 842.8,84.8 843.5,84.7 C844.2,84.6 844.8,84.5 845.5,84.4 C846.2,84.3 846.8,84.2 847.5,84.1 C848.2,84.0 848.8,83.9 849.5,83.7 C850.2,83.6 850.8,83.5 851.5,83.4 C852.2,83.2 852.8,83.1 853.5,83.0 C854.2,82.8 854.8,82.7 855.5,82.5 C856.2,82.4 856.8,82.2 857.5,82.1 C858.2,81.9 858.8,81.8 859.5,81.6 C860.2,81.5 860.8,81.3 861.5,81.2 C862.2,81.0 862.8,80.9 863.5,80.7 C864.2,80.6 864.8,80.4 865.5,80.3 C866.2,80.1 866.8,80.0 867.5,79.8 C868.2,79.7 868.8,79.6 869.5,79.4 C870.2,79.3 870.8,79.2 871.5,79.1 C872.2,79.0 872.8,78.9 873.5,78.8 C874.2,78.7 874.8,78.6 875.5,78.5 C876.2,78.4 876.8,78.4 877.5,78.3 C878.2,78.2 878.8,78.2 879.5,78.2 C880.2,78.1 880.8,78.1 881.5,78.1 C882.2,78.1 882.8,78.1 883.5,78.1 C884.2,78.1 884.8,78.2 885.5,78.2 C886.2,78.2 886.8,78.3 887.5,78.3 C888.2,78.4 888.8,78.5 889.5,78.5 C890.2,78.6 890.8,78.7 891.5,78.8 C892.2,78.9 892.8,79.0 893.5,79.1 C894.2,79.3 894.8,79.4 895.5,79.5 C896.2,79.6 896.8,79.8 897.5,79.9 C898.2,80.1 898.8,80.2 899.5,80.3 C900.2,80.5 900.8,80.6 901.5,80.8 C902.2,80.9 902.8,81.1 903.5,81.3 C904.2,81.4 904.8,81.6 905.5,81.7 C906.2,81.9 906.8,82.0 907.5,82.2 C908.2,82.3 908.8,82.5 909.5,82.6 C910.2,82.8 910.8,82.9 911.5,83.0 C912.2,83.2 912.8,83.3 913.5,83.4 C914.2,83.6 914.8,83.7 915.5,83.8 C916.2,83.9 916.8,84.0 917.5,84.2 C918.2,84.3 918.8,84.4 919.5,84.5 C920.2,84.6 920.8,84.7 921.5,84.7 C922.2,84.8 922.8,84.9 923.5,85.0 C924.2,85.1 924.8,85.1 925.5,85.2 C926.2,85.3 926.8,85.3 927.5,85.4 C928.2,85.5 928.8,85.5 929.5,85.6 C930.2,85.6 930.8,85.7 931.5,85.7 C932.2,85.7 932.8,85.8 933.5,85.8 C934.2,85.9 934.8,85.9 935.5,85.9 C936.2,85.9 936.8,86.0 937.5,86.0 C938.2,86.0 938.8,86.0 939.5,86.1 C940.2,86.1 940.8,86.1 941.5,86.1 C942.2,86.1 942.8,86.1 943.5,86.2 C944.2,86.2 944.8,86.2 945.5,86.2 C946.2,86.2 946.8,86.2 947.5,86.2 C948.2,86.2 948.8,86.2 949.5,86.2 C950.2,86.2 950.8,86.2 951.5,86.3 C952.2,86.3 952.8,86.3 953.5,86.3 C954.2,86.3 954.8,86.3 955.5,86.3 C956.2,86.3 956.8,86.3 957.5,86.3 C958.2,86.3 958.8,86.3 959.5,86.3 C960.2,86.3 960.8,86.3 961.5,86.3 C962.2,86.3 962.8,86.3 963.5,86.3 C964.2,86.3 964.8,86.3 965.5,86.3 C966.2,86.3 966.8,86.3 967.5,86.3 C968.2,86.3 968.8,86.3 969.5,86.3 C970.2,86.3 970.8,86.3 971.5,86.3 C972.2,86.3 972.8,86.3 973.5,86.3 C974.2,86.3 974.8,86.3 975.5,86.3 C976.2,86.3 976.8,86.3 977.5,86.3 C978.2,86.3 978.8,86.3 979.5,86.3 C980.2,86.3 980.8,86.3 981.5,86.3 C982.2,86.3 982.8,86.3 983.5,86.3 C984.2,86.3 984.8,86.3 985.5,86.3 C986.2,86.3 986.8,86.3 987.5,86.3 C988.2,86.3 988.8,86.3 989.5,86.3 C990.2,86.3 990.8,86.3 991.5,86.3 C992.2,86.3 992.8,86.3 993.5,86.3 C994.2,86.3 994.8,86.3 995.5,86.3 C996.2,86.3 996.8,86.3 997.5,86.3 C998.2,86.3 998.8,86.3 999.5,86.3 C1000.2,86.3 1000.8,86.3 1001.5,86.3 C1002.2,86.3 1002.8,86.3 1003.5,86.3 C1004.2,86.3 1004.8,86.3 1005.5,86.3 C1006.2,86.3 1006.8,86.3 1007.5,86.3 C1008.2,86.3 1008.8,86.3 1009.5,86.3 C1010.2,86.3 1010.8,86.3 1011.5,86.3 C1012.2,86.3 1012.8,86.3 1013.5,86.3 C1014.2,86.3 1014.8,86.3 1015.5,86.3 C1016.2,86.3 1016.8,86.3 1017.5,86.3 C1018.2,86.3 1018.8,86.3 1019.5,86.3 C1020.2,86.3 1020.8,86.3 1021.5,86.3 C1022.2,86.3 1022.8,86.3 1023.5,86.3 C1024.2,86.3 1024.8,86.3 1025.5,86.3 C1026.2,86.3 1026.8,86.3 1027.5,86.3 C1028.2,86.3 1028.8,86.3 1029.5,86.3 C1030.2,86.3 1030.8,86.3 1031.5,86.3 C1032.2,86.3 1032.8,86.3 1033.5,86.3 C1034.2,86.3 1034.8,86.3 1035.5,86.3 C1036.2,86.3 1036.8,86.3 1037.5,86.3 C1038.2,86.3 1038.8,86.3 1039.5,86.3 C1040.2,86.3 1040.8,86.3 1041.5,86.3 C1042.2,86.3 1042.8,86.3 1043.5,86.3 C1044.2,86.3 1044.8,86.3 1045.5,86.3 C1046.2,86.3 1046.8,86.3 1047.5,86.3 C1048.2,86.3 1048.8,86.3 1049.5,86.3 C1050.2,86.3 1050.8,86.3 1051.5,86.3 C1052.2,86.3 1052.8,86.3 1053.5,86.3 C1054.2,86.3 1054.8,86.3 1055.5,86.3 C1056.2,86.3 1056.8,86.3 1057.5,86.3 C1058.2,86.3 1058.8,86.3 1059.5,86.3 C1060.2,86.3 1060.8,86.3 1061.5,86.3 C1062.2,86.3 1062.8,86.3 1063.5,86.3 C1064.2,86.3 1064.8,86.3 1065.5,86.3 C1066.2,86.3 1066.8,86.3 1067.5,86.3 C1068.2,86.3 1069.2,86.3 1069.5,86.3" stroke="#111" stroke-width="1.4"/>
<path d="M764.9,89.2 C767.5,90.3 774.9,93.3 780.2,96.1 C785.5,98.9 792.3,103.4 796.9,106.0 C801.5,108.6 805.0,110.5 808.0,111.8 C811.0,113.1 812.7,113.5 815.0,114.0 C817.3,114.5 819.6,114.8 821.9,114.6 C824.2,114.4 826.7,113.7 829.0,113.0 C831.3,112.3 833.3,111.5 835.8,110.6 C838.3,109.7 841.8,108.2 844.1,107.6 C846.4,107.0 848.1,107.0 849.7,107.2 C851.3,107.4 852.2,108.1 853.5,109.0 C854.8,109.9 855.8,110.7 857.5,112.8 C859.2,114.9 861.3,117.2 864.0,121.5 C866.7,125.8 870.1,133.5 873.7,138.3 C877.3,143.1 882.0,147.4 885.5,150.1 C889.0,152.8 891.0,153.2 895.0,154.2 C899.0,155.2 901.7,155.6 909.2,156.0 C916.7,156.4 912.4,156.3 940.0,156.4 C967.6,156.5 1052.5,156.5 1075.0,156.5" stroke="#ad3a35" stroke-width="1.4" stroke-dasharray="6,4.8"/>
<path d="M759.5,157.8 C759.8,157.8 760.8,157.8 761.5,157.8 C762.2,157.8 762.8,157.8 763.5,157.8 C764.2,157.8 764.8,157.8 765.5,157.8 C766.2,157.8 766.8,157.8 767.5,157.8 C768.2,157.8 768.8,157.8 769.5,157.8 C770.2,157.8 770.8,157.8 771.5,157.8 C772.2,157.8 772.8,157.8 773.5,157.8 C774.2,157.8 774.8,157.8 775.5,157.8 C776.2,157.8 776.8,157.8 777.5,157.8 C778.2,157.8 778.8,157.8 779.5,157.8 C780.2,157.8 780.8,157.8 781.5,157.8 C782.2,157.8 782.8,157.8 783.5,157.8 C784.2,157.8 784.8,157.8 785.5,157.7 C786.2,157.7 786.8,157.7 787.5,157.7 C788.2,157.7 788.8,157.7 789.5,157.7 C790.2,157.7 790.8,157.7 791.5,157.7 C792.2,157.7 792.8,157.6 793.5,157.6 C794.2,157.6 794.8,157.6 795.5,157.6 C796.2,157.6 796.8,157.5 797.5,157.5 C798.2,157.5 798.8,157.5 799.5,157.4 C800.2,157.4 800.8,157.4 801.5,157.3 C802.2,157.3 802.8,157.2 803.5,157.2 C804.2,157.1 804.8,157.1 805.5,157.0 C806.2,157.0 806.8,156.9 807.5,156.8 C808.2,156.8 808.8,156.7 809.5,156.6 C810.2,156.5 810.8,156.4 811.5,156.3 C812.2,156.2 812.8,156.1 813.5,155.9 C814.2,155.8 814.8,155.7 815.5,155.5 C816.2,155.4 816.8,155.2 817.5,155.0 C818.2,154.8 818.8,154.6 819.5,154.4 C820.2,154.2 820.8,154.0 821.5,153.7 C822.2,153.5 822.8,153.2 823.5,152.9 C824.2,152.7 824.8,152.4 825.5,152.0 C826.2,151.7 826.8,151.4 827.5,151.0 C828.2,150.6 828.8,150.3 829.5,149.8 C830.2,149.4 830.8,149.0 831.5,148.5 C832.2,148.1 832.8,147.6 833.5,147.1 C834.2,146.6 834.8,146.0 835.5,145.5 C836.2,144.9 836.8,144.4 837.5,143.7 C838.2,143.1 838.8,142.5 839.5,141.9 C840.2,141.2 840.8,140.5 841.5,139.8 C842.2,139.2 842.8,138.4 843.5,137.7 C844.2,137.0 844.8,136.2 845.5,135.4 C846.2,134.7 846.8,133.9 847.5,133.1 C848.2,132.3 848.8,131.5 849.5,130.7 C850.2,129.9 850.8,129.0 851.5,128.2 C852.2,127.4 852.8,126.6 853.5,125.7 C854.2,124.9 854.8,124.1 855.5,123.3 C856.2,122.5 856.8,121.7 857.5,120.9 C858.2,120.1 858.8,119.3 859.5,118.6 C860.2,117.8 860.8,117.1 861.5,116.4 C862.2,115.7 862.8,115.0 863.5,114.4 C864.2,113.7 864.8,113.1 865.5,112.5 C866.2,112.0 866.8,111.4 867.5,110.9 C868.2,110.4 868.8,110.0 869.5,109.6 C870.2,109.2 870.8,108.8 871.5,108.5 C872.2,108.2 872.8,108.0 873.5,107.8 C874.2,107.6 874.8,107.4 875.5,107.3 C876.2,107.2 876.8,107.2 877.5,107.2 C878.2,107.2 878.8,107.3 879.5,107.4 C880.2,107.6 880.8,107.8 881.5,108.1 C882.2,108.3 882.8,108.7 883.5,109.0 C884.2,109.4 884.8,109.9 885.5,110.3 C886.2,110.8 886.8,111.4 887.5,111.9 C888.2,112.5 888.8,113.2 889.5,113.8 C890.2,114.5 890.8,115.2 891.5,116.0 C892.2,116.7 892.8,117.5 893.5,118.3 C894.2,119.1 894.8,119.9 895.5,120.7 C896.2,121.6 896.8,122.4 897.5,123.3 C898.2,124.2 898.8,125.0 899.5,125.9 C900.2,126.8 900.8,127.7 901.5,128.6 C902.2,129.4 902.8,130.3 903.5,131.2 C904.2,132.1 904.8,132.9 905.5,133.8 C906.2,134.6 906.8,135.4 907.5,136.2 C908.2,137.0 908.8,137.8 909.5,138.6 C910.2,139.4 910.8,140.1 911.5,140.8 C912.2,141.6 912.8,142.3 913.5,142.9 C914.2,143.6 914.8,144.2 915.5,144.8 C916.2,145.5 916.8,146.0 917.5,146.6 C918.2,147.2 918.8,147.7 919.5,148.2 C920.2,148.7 920.8,149.2 921.5,149.6 C922.2,150.1 922.8,150.5 923.5,150.9 C924.2,151.3 924.8,151.7 925.5,152.0 C926.2,152.4 926.8,152.7 927.5,153.0 C928.2,153.3 928.8,153.6 929.5,153.8 C930.2,154.1 930.8,154.3 931.5,154.5 C932.2,154.8 932.8,155.0 933.5,155.1 C934.2,155.3 934.8,155.5 935.5,155.6 C936.2,155.8 936.8,155.9 937.5,156.1 C938.2,156.2 938.8,156.3 939.5,156.4 C940.2,156.5 940.8,156.6 941.5,156.7 C942.2,156.8 942.8,156.9 943.5,156.9 C944.2,157.0 944.8,157.1 945.5,157.1 C946.2,157.2 946.8,157.2 947.5,157.3 C948.2,157.3 948.8,157.4 949.5,157.4 C950.2,157.4 950.8,157.5 951.5,157.5 C952.2,157.5 952.8,157.6 953.5,157.6 C954.2,157.6 954.8,157.6 955.5,157.6 C956.2,157.6 956.8,157.7 957.5,157.7 C958.2,157.7 958.8,157.7 959.5,157.7 C960.2,157.7 960.8,157.7 961.5,157.7 C962.2,157.7 962.8,157.7 963.5,157.7 C964.2,157.8 964.8,157.8 965.5,157.8 C966.2,157.8 966.8,157.8 967.5,157.8 C968.2,157.8 968.8,157.8 969.5,157.8 C970.2,157.8 970.8,157.8 971.5,157.8 C972.2,157.8 972.8,157.8 973.5,157.8 C974.2,157.8 974.8,157.8 975.5,157.8 C976.2,157.8 976.8,157.8 977.5,157.8 C978.2,157.8 978.8,157.8 979.5,157.8 C980.2,157.8 980.8,157.8 981.5,157.8 C982.2,157.8 982.8,157.8 983.5,157.8 C984.2,157.8 984.8,157.8 985.5,157.8 C986.2,157.8 986.8,157.8 987.5,157.8 C988.2,157.8 988.8,157.8 989.5,157.8 C990.2,157.8 990.8,157.8 991.5,157.8 C992.2,157.8 992.8,157.8 993.5,157.8 C994.2,157.8 994.8,157.8 995.5,157.8 C996.2,157.8 996.8,157.8 997.5,157.8 C998.2,157.8 998.8,157.8 999.5,157.8 C1000.2,157.8 1000.8,157.8 1001.5,157.8 C1002.2,157.8 1002.8,157.8 1003.5,157.8 C1004.2,157.8 1004.8,157.8 1005.5,157.8 C1006.2,157.8 1006.8,157.8 1007.5,157.8 C1008.2,157.8 1008.8,157.8 1009.5,157.8 C1010.2,157.8 1010.8,157.8 1011.5,157.8 C1012.2,157.8 1012.8,157.8 1013.5,157.8 C1014.2,157.8 1014.8,157.8 1015.5,157.8 C1016.2,157.8 1016.8,157.8 1017.5,157.8 C1018.2,157.8 1018.8,157.8 1019.5,157.8 C1020.2,157.8 1020.8,157.8 1021.5,157.8 C1022.2,157.8 1022.8,157.8 1023.5,157.8 C1024.2,157.8 1024.8,157.8 1025.5,157.8 C1026.2,157.8 1026.8,157.8 1027.5,157.8 C1028.2,157.8 1028.8,157.8 1029.5,157.8 C1030.2,157.8 1030.8,157.8 1031.5,157.8 C1032.2,157.8 1032.8,157.8 1033.5,157.8 C1034.2,157.8 1034.8,157.8 1035.5,157.8 C1036.2,157.8 1036.8,157.8 1037.5,157.8 C1038.2,157.8 1038.8,157.8 1039.5,157.8 C1040.2,157.8 1040.8,157.8 1041.5,157.8 C1042.2,157.8 1042.8,157.8 1043.5,157.8 C1044.2,157.8 1044.8,157.8 1045.5,157.8 C1046.2,157.8 1046.8,157.8 1047.5,157.8 C1048.2,157.8 1048.8,157.8 1049.5,157.8 C1050.2,157.8 1050.8,157.8 1051.5,157.8 C1052.2,157.8 1052.8,157.8 1053.5,157.8 C1054.2,157.8 1054.8,157.8 1055.5,157.8 C1056.2,157.8 1056.8,157.8 1057.5,157.8 C1058.2,157.8 1058.8,157.8 1059.5,157.8 C1060.2,157.8 1060.8,157.8 1061.5,157.8 C1062.2,157.8 1062.8,157.8 1063.5,157.8 C1064.2,157.8 1064.8,157.8 1065.5,157.8 C1066.2,157.8 1066.8,157.8 1067.5,157.8 C1068.2,157.8 1069.2,157.8 1069.5,157.8" stroke="#ad3a35" stroke-width="1.6"/>
<path d="M779.4,160.1 C782.0,161.2 789.6,164.2 795.1,166.4 C800.6,168.6 806.5,171.2 812.2,173.5 C817.9,175.8 825.3,178.8 829.3,180.1 C833.3,181.4 833.6,181.3 836.0,181.6 C838.4,181.9 840.4,182.2 843.5,182.1 C846.6,182.0 851.1,181.6 854.9,181.2 C858.7,180.8 863.6,179.9 866.3,179.6 C869.0,179.3 868.9,178.9 871.0,179.6 C873.1,180.3 876.1,181.8 878.7,183.6 C881.3,185.4 884.0,188.0 886.7,190.7 C889.4,193.4 892.0,196.9 894.7,200.0 C897.4,203.1 899.6,206.4 902.7,209.3 C905.8,212.2 909.3,215.1 913.3,217.3 C917.3,219.5 922.2,221.4 926.7,222.7 C931.2,223.9 934.7,224.2 940.0,224.8 C945.3,225.4 948.7,225.8 958.7,226.1 C968.7,226.4 980.6,226.7 1000.0,226.9 C1019.4,227.2 1062.5,227.5 1075.0,227.6" stroke="#4f9d70" stroke-width="1.4" stroke-dasharray="6,4.8"/>
<path d="M759.5,229.3 C759.8,229.3 760.8,229.3 761.5,229.3 C762.2,229.3 762.8,229.3 763.5,229.3 C764.2,229.3 764.8,229.3 765.5,229.3 C766.2,229.3 766.8,229.3 767.5,229.3 C768.2,229.3 768.8,229.3 769.5,229.3 C770.2,229.3 770.8,229.3 771.5,229.3 C772.2,229.3 772.8,229.3 773.5,229.3 C774.2,229.3 774.8,229.3 775.5,229.3 C776.2,229.3 776.8,229.3 777.5,229.3 C778.2,229.3 778.8,229.3 779.5,229.3 C780.2,229.3 780.8,229.3 781.5,229.3 C782.2,229.3 782.8,229.3 783.5,229.3 C784.2,229.3 784.8,229.3 785.5,229.3 C786.2,229.3 786.8,229.3 787.5,229.3 C788.2,229.3 788.8,229.3 789.5,229.3 C790.2,229.3 790.8,229.3 791.5,229.3 C792.2,229.3 792.8,229.3 793.5,229.3 C794.2,229.3 794.8,229.3 795.5,229.3 C796.2,229.3 796.8,229.3 797.5,229.3 C798.2,229.3 798.8,229.3 799.5,229.3 C800.2,229.3 800.8,229.3 801.5,229.2 C802.2,229.2 802.8,229.2 803.5,229.2 C804.2,229.2 804.8,229.2 805.5,229.2 C806.2,229.2 806.8,229.2 807.5,229.2 C808.2,229.2 808.8,229.2 809.5,229.1 C810.2,229.1 810.8,229.1 811.5,229.1 C812.2,229.1 812.8,229.1 813.5,229.0 C814.2,229.0 814.8,229.0 815.5,229.0 C816.2,228.9 816.8,228.9 817.5,228.9 C818.2,228.8 818.8,228.8 819.5,228.8 C820.2,228.7 820.8,228.7 821.5,228.6 C822.2,228.6 822.8,228.5 823.5,228.5 C824.2,228.4 824.8,228.3 825.5,228.3 C826.2,228.2 826.8,228.1 827.5,228.0 C828.2,228.0 828.8,227.9 829.5,227.8 C830.2,227.7 830.8,227.5 831.5,227.4 C832.2,227.3 832.8,227.2 833.5,227.0 C834.2,226.9 834.8,226.7 835.5,226.6 C836.2,226.4 836.8,226.2 837.5,226.0 C838.2,225.8 838.8,225.6 839.5,225.4 C840.2,225.2 840.8,224.9 841.5,224.7 C842.2,224.4 842.8,224.2 843.5,223.9 C844.2,223.6 844.8,223.3 845.5,223.0 C846.2,222.6 846.8,222.3 847.5,221.9 C848.2,221.6 848.8,221.2 849.5,220.8 C850.2,220.4 850.8,219.9 851.5,219.5 C852.2,219.0 852.8,218.6 853.5,218.1 C854.2,217.6 854.8,217.1 855.5,216.6 C856.2,216.0 856.8,215.5 857.5,214.9 C858.2,214.3 858.8,213.7 859.5,213.1 C860.2,212.5 860.8,211.9 861.5,211.2 C862.2,210.5 862.8,209.9 863.5,209.2 C864.2,208.5 864.8,207.8 865.5,207.1 C866.2,206.4 866.8,205.6 867.5,204.9 C868.2,204.2 868.8,203.4 869.5,202.6 C870.2,201.9 870.8,201.1 871.5,200.3 C872.2,199.6 872.8,198.8 873.5,198.0 C874.2,197.3 874.8,196.5 875.5,195.7 C876.2,195.0 876.8,194.2 877.5,193.4 C878.2,192.7 878.8,192.0 879.5,191.2 C880.2,190.5 880.8,189.8 881.5,189.1 C882.2,188.4 882.8,187.8 883.5,187.1 C884.2,186.5 884.8,185.9 885.5,185.3 C886.2,184.7 886.8,184.1 887.5,183.6 C888.2,183.1 888.8,182.6 889.5,182.2 C890.2,181.7 890.8,181.3 891.5,181.0 C892.2,180.6 892.8,180.3 893.5,180.0 C894.2,179.7 894.8,179.5 895.5,179.3 C896.2,179.1 896.8,178.9 897.5,178.8 C898.2,178.7 898.8,178.7 899.5,178.7 C900.2,178.7 900.8,178.7 901.5,178.8 C902.2,178.8 902.8,178.9 903.5,179.1 C904.2,179.2 904.8,179.3 905.5,179.5 C906.2,179.6 906.8,179.8 907.5,180.0 C908.2,180.2 908.8,180.5 909.5,180.7 C910.2,181.0 910.8,181.3 911.5,181.5 C912.2,181.8 912.8,182.1 913.5,182.4 C914.2,182.8 914.8,183.1 915.5,183.4 C916.2,183.8 916.8,184.1 917.5,184.5 C918.2,184.9 918.8,185.2 919.5,185.6 C920.2,186.0 920.8,186.4 921.5,186.8 C922.2,187.2 922.8,187.6 923.5,188.0 C924.2,188.4 924.8,188.8 925.5,189.2 C926.2,189.7 926.8,190.1 927.5,190.5 C928.2,190.9 928.8,191.4 929.5,191.8 C930.2,192.2 930.8,192.6 931.5,193.0 C932.2,193.5 932.8,193.9 933.5,194.3 C934.2,194.7 934.8,195.2 935.5,195.6 C936.2,196.0 936.8,196.4 937.5,196.8 C938.2,197.2 938.8,197.7 939.5,198.1 C940.2,198.5 940.8,198.9 941.5,199.3 C942.2,199.7 942.8,200.1 943.5,200.5 C944.2,200.8 944.8,201.2 945.5,201.6 C946.2,202.0 946.8,202.4 947.5,202.7 C948.2,203.1 948.8,203.5 949.5,203.8 C950.2,204.2 950.8,204.6 951.5,204.9 C952.2,205.3 952.8,205.6 953.5,205.9 C954.2,206.3 954.8,206.6 955.5,206.9 C956.2,207.3 956.8,207.6 957.5,207.9 C958.2,208.2 958.8,208.5 959.5,208.8 C960.2,209.1 960.8,209.4 961.5,209.7 C962.2,210.0 962.8,210.3 963.5,210.6 C964.2,210.9 964.8,211.1 965.5,211.4 C966.2,211.7 966.8,212.0 967.5,212.2 C968.2,212.5 968.8,212.7 969.5,213.0 C970.2,213.2 970.8,213.5 971.5,213.7 C972.2,214.0 972.8,214.2 973.5,214.4 C974.2,214.7 974.8,214.9 975.5,215.2 C976.2,215.5 976.8,215.9 977.5,216.2 C978.2,216.5 978.8,216.8 979.5,217.0 C980.2,217.3 980.8,217.6 981.5,217.9 C982.2,218.2 982.8,218.4 983.5,218.7 C984.2,219.0 984.8,219.2 985.5,219.5 C986.2,219.7 986.8,220.0 987.5,220.2 C988.2,220.4 988.8,220.7 989.5,220.9 C990.2,221.1 990.8,221.3 991.5,221.5 C992.2,221.8 992.8,222.0 993.5,222.2 C994.2,222.4 994.8,222.5 995.5,222.7 C996.2,222.9 996.8,223.1 997.5,223.3 C998.2,223.5 998.8,223.6 999.5,223.8 C1000.2,223.9 1000.8,224.1 1001.5,224.3 C1002.2,224.4 1002.8,224.6 1003.5,224.7 C1004.2,224.8 1004.8,225.0 1005.5,225.1 C1006.2,225.2 1006.8,225.4 1007.5,225.5 C1008.2,225.6 1008.8,225.7 1009.5,225.8 C1010.2,225.9 1010.8,226.1 1011.5,226.2 C1012.2,226.3 1012.8,226.4 1013.5,226.5 C1014.2,226.6 1014.8,226.6 1015.5,226.7 C1016.2,226.8 1016.8,226.9 1017.5,227.0 C1018.2,227.1 1018.8,227.1 1019.5,227.2 C1020.2,227.3 1020.8,227.4 1021.5,227.4 C1022.2,227.5 1022.8,227.6 1023.5,227.6 C1024.2,227.7 1024.8,227.7 1025.5,227.8 C1026.2,227.9 1026.8,227.9 1027.5,228.0 C1028.2,228.0 1028.8,228.1 1029.5,228.1 C1030.2,228.2 1030.8,228.2 1031.5,228.2 C1032.2,228.3 1032.8,228.3 1033.5,228.4 C1034.2,228.4 1034.8,228.4 1035.5,228.5 C1036.2,228.5 1036.8,228.5 1037.5,228.6 C1038.2,228.6 1038.8,228.6 1039.5,228.6 C1040.2,228.7 1040.8,228.7 1041.5,228.7 C1042.2,228.7 1042.8,228.8 1043.5,228.8 C1044.2,228.8 1044.8,228.8 1045.5,228.9 C1046.2,228.9 1046.8,228.9 1047.5,228.9 C1048.2,228.9 1048.8,228.9 1049.5,229.0 C1050.2,229.0 1050.8,229.0 1051.5,229.0 C1052.2,229.0 1052.8,229.0 1053.5,229.0 C1054.2,229.0 1054.8,229.1 1055.5,229.1 C1056.2,229.1 1056.8,229.1 1057.5,229.1 C1058.2,229.1 1058.8,229.1 1059.5,229.1 C1060.2,229.1 1060.8,229.1 1061.5,229.1 C1062.2,229.2 1062.8,229.2 1063.5,229.2 C1064.2,229.2 1064.8,229.2 1065.5,229.2 C1066.2,229.2 1066.8,229.2 1067.5,229.2 C1068.2,229.2 1069.2,229.2 1069.5,229.2" stroke="#4f9d70" stroke-width="1.6"/>
</g>
<line x1="759.5" y1="86.3" x2="1069.9" y2="86.3" stroke="#111" stroke-width="1.30" />
<line x1="759.5" y1="157.8" x2="1069.9" y2="157.8" stroke="#333" stroke-width="1.20" />
<text x="759.7" y="241.7" font-size="10.60" text-anchor="middle" fill="#1a1a1a" font-weight="normal" >450</text>
<line x1="781.7" y1="230.2" x2="781.7" y2="228.4" stroke="#111" stroke-width="1.10" />
<line x1="803.8" y1="230.2" x2="803.8" y2="227.0" stroke="#111" stroke-width="1.10" />
<text x="804.0" y="241.7" font-size="10.60" text-anchor="middle" fill="#1a1a1a" font-weight="normal" >500</text>
<line x1="826.0" y1="230.2" x2="826.0" y2="228.4" stroke="#111" stroke-width="1.10" />
<line x1="848.2" y1="230.2" x2="848.2" y2="227.0" stroke="#111" stroke-width="1.10" />
<text x="848.4" y="241.7" font-size="10.60" text-anchor="middle" fill="#1a1a1a" font-weight="normal" >550</text>
<line x1="870.4" y1="230.2" x2="870.4" y2="228.4" stroke="#111" stroke-width="1.10" />
<line x1="892.5" y1="230.2" x2="892.5" y2="227.0" stroke="#111" stroke-width="1.10" />
<text x="892.7" y="241.7" font-size="10.60" text-anchor="middle" fill="#1a1a1a" font-weight="normal" >600</text>
<line x1="914.7" y1="230.2" x2="914.7" y2="228.4" stroke="#111" stroke-width="1.10" />
<line x1="936.9" y1="230.2" x2="936.9" y2="227.0" stroke="#111" stroke-width="1.10" />
<text x="937.1" y="241.7" font-size="10.60" text-anchor="middle" fill="#1a1a1a" font-weight="normal" >650</text>
<line x1="959.0" y1="230.2" x2="959.0" y2="228.4" stroke="#111" stroke-width="1.10" />
<line x1="981.2" y1="230.2" x2="981.2" y2="227.0" stroke="#111" stroke-width="1.10" />
<text x="981.4" y="241.7" font-size="10.60" text-anchor="middle" fill="#1a1a1a" font-weight="normal" >700</text>
<line x1="1003.4" y1="230.2" x2="1003.4" y2="228.4" stroke="#111" stroke-width="1.10" />
<line x1="1025.6" y1="230.2" x2="1025.6" y2="227.0" stroke="#111" stroke-width="1.10" />
<text x="1025.8" y="241.7" font-size="10.60" text-anchor="middle" fill="#1a1a1a" font-weight="normal" >750</text>
<line x1="1047.7" y1="230.2" x2="1047.7" y2="228.4" stroke="#111" stroke-width="1.10" />
<text x="1070.1" y="241.7" font-size="10.60" text-anchor="middle" fill="#1a1a1a" font-weight="normal" >800</text>
<line x1="759.5" y1="15.3" x2="1069.9" y2="15.3" stroke="#777" stroke-width="1.30" />
<line x1="1069.9" y1="15.3" x2="1069.9" y2="230.2" stroke="#999" stroke-width="1.30" />
<line x1="759.5" y1="14.7" x2="759.5" y2="230.9" stroke="#111" stroke-width="1.50" />
<line x1="758.8" y1="230.2" x2="1070.5" y2="230.2" stroke="#0a0a0a" stroke-width="1.35" />
<text x="869.95" y="32.80" font-size="15.60" fill="#111" font-weight="normal" textLength="86.21" lengthAdjust="spacingAndGlyphs" >Pristine InP</text>
<text x="1006.10" y="32.70" font-size="15.60" fill="#111" font-weight="normal" textLength="28.39" lengthAdjust="spacingAndGlyphs" >Abs</text>
<text x="1042.98" y="32.70" font-size="15.60" fill="#111" font-weight="normal" textLength="21.77" lengthAdjust="spacingAndGlyphs" >PL</text>
<path d="M1008.8,41.1 L1033.0,41.1" stroke="#111" stroke-width="1.4" stroke-dasharray="5.6,3.6" fill="none"/>
<line x1="1042.8" y1="41.1" x2="1066.3" y2="41.1" stroke="#111" stroke-width="1.40" />
<text x="807.31" y="78.70" font-size="11.30" fill="#222" font-weight="normal" textLength="34.33" lengthAdjust="spacingAndGlyphs" >PL x10</text>
<text x="932.17" y="63.00" font-size="12.40" fill="#111" font-weight="normal" textLength="34.22" lengthAdjust="spacingAndGlyphs" >PLQY</text>
<text x="926.84" y="76.80" font-size="12.40" fill="#111" font-weight="normal" textLength="45.01" lengthAdjust="spacingAndGlyphs" >~ 0.1 %</text>
<line x1="910.2" y1="82.6" x2="927.2" y2="73.0" stroke="#111" stroke-width="1.10" />
<text x="889.80" y="105.60" font-size="15.60" fill="#ad3a35" font-weight="normal" textLength="73.84" lengthAdjust="spacingAndGlyphs" >ZnOA-InP</text>
<text x="1006.00" y="104.30" font-size="15.60" fill="#111" font-weight="normal" textLength="28.39" lengthAdjust="spacingAndGlyphs" >Abs</text>
<text x="1042.79" y="104.30" font-size="15.60" fill="#111" font-weight="normal" textLength="21.55" lengthAdjust="spacingAndGlyphs" >PL</text>
<path d="M1008.6,112.2 L1033.0,112.2" stroke="#ad3a35" stroke-width="1.4" stroke-dasharray="5.6,3.6" fill="none"/>
<line x1="1042.6" y1="112.2" x2="1066.0" y2="112.2" stroke="#ad3a35" stroke-width="1.40" />
<text x="931.72" y="137.50" font-size="12.40" fill="#ad3a35" font-weight="normal" textLength="35.89" lengthAdjust="spacingAndGlyphs" >PLQY</text>
<text x="934.70" y="150.20" font-size="12.40" fill="#ad3a35" font-weight="normal" textLength="34.37" lengthAdjust="spacingAndGlyphs" >3.3 %</text>
<line x1="908.9" y1="141.9" x2="923.7" y2="139.6" stroke="#ad3a35" stroke-width="1.10" />
<line x1="851.0" y1="173.0" x2="861.5" y2="173.0" stroke="#777" stroke-width="1.60" />
<path d="M860.5,169.5 L867.2,173 L860.5,176.5 Z" fill="#777"/>
<text x="909.06" y="178.20" font-size="15.60" fill="#4f9d70" font-weight="normal" textLength="76.31" lengthAdjust="spacingAndGlyphs" >CdOA-InP</text>
<text x="1006.90" y="175.40" font-size="15.60" fill="#111" font-weight="normal" textLength="27.77" lengthAdjust="spacingAndGlyphs" >Abs</text>
<text x="1042.19" y="175.40" font-size="15.60" fill="#111" font-weight="normal" textLength="21.55" lengthAdjust="spacingAndGlyphs" >PL</text>
<path d="M1008.0,184.0 L1033.0,184.0" stroke="#4f9d70" stroke-width="1.4" stroke-dasharray="5.6,3.6" fill="none"/>
<line x1="1043.0" y1="184.0" x2="1066.0" y2="184.0" stroke="#4f9d70" stroke-width="1.40" />
<text x="994.17" y="207.60" font-size="12.40" fill="#4f9d70" font-weight="normal" textLength="34.33" lengthAdjust="spacingAndGlyphs" >PLQY</text>
<text x="993.61" y="220.30" font-size="12.40" fill="#4f9d70" font-weight="normal" textLength="35.06" lengthAdjust="spacingAndGlyphs" >2.3 %</text>
<line x1="968.9" y1="212.8" x2="986.1" y2="206.0" stroke="#4f9d70" stroke-width="1.10" />
<text x="0" y="0" font-size="16.00" fill="#111" textLength="121.89" lengthAdjust="spacingAndGlyphs" transform="translate(751.00,183.30) rotate(-90)">Absorption (a.u.)</text>
<text x="0" y="0" font-size="16.00" fill="#111" textLength="129.02" lengthAdjust="spacingAndGlyphs" transform="translate(1090.20,186.93) rotate(-90)">PL intensity (a.u.)</text>
<text x="851.56" y="263.50" font-size="15.30" fill="#111" font-weight="normal" textLength="127.24" lengthAdjust="spacingAndGlyphs" >Wavelength (nm)</text>
</svg>
</body></html>
